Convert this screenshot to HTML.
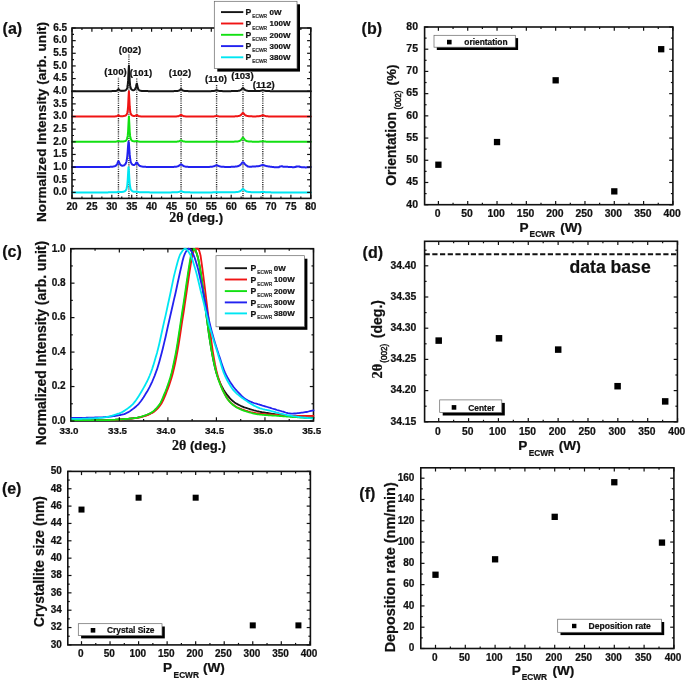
<!DOCTYPE html>
<html><head><meta charset="utf-8"><title>figure</title>
<style>html,body{margin:0;padding:0;background:#fff;overflow:hidden;}svg{display:block;filter:blur(0.35px);}text{stroke:#111;stroke-width:0.22px;}</style></head>
<body>
<svg width="685" height="681" viewBox="0 0 685 681" font-family="Liberation Sans, sans-serif" font-weight="bold">
<rect width="685" height="681" fill="#fff"/>
<line x1="118.45" y1="198.40" x2="118.45" y2="77.20" stroke="#2a2a2a" stroke-width="1.4" stroke-dasharray="1.1,1.1"/>
<line x1="128.91" y1="198.40" x2="128.91" y2="54.60" stroke="#2a2a2a" stroke-width="1.4" stroke-dasharray="1.1,1.1"/>
<line x1="136.75" y1="198.40" x2="136.75" y2="78.00" stroke="#2a2a2a" stroke-width="1.4" stroke-dasharray="1.1,1.1"/>
<line x1="181.05" y1="198.40" x2="181.05" y2="78.20" stroke="#2a2a2a" stroke-width="1.4" stroke-dasharray="1.1,1.1"/>
<line x1="216.59" y1="198.40" x2="216.59" y2="84.70" stroke="#2a2a2a" stroke-width="1.4" stroke-dasharray="1.1,1.1"/>
<line x1="242.98" y1="198.40" x2="242.98" y2="81.40" stroke="#2a2a2a" stroke-width="1.4" stroke-dasharray="1.1,1.1"/>
<line x1="262.80" y1="198.40" x2="262.80" y2="90.10" stroke="#2a2a2a" stroke-width="1.4" stroke-dasharray="1.1,1.1"/>
<polyline points="72.0,91.2 72.4,91.2 72.8,91.2 73.2,91.2 73.6,91.2 74.0,91.2 74.4,91.2 74.8,91.2 75.2,91.2 75.6,91.2 76.0,91.2 76.4,91.2 76.8,91.2 77.2,91.2 77.6,91.2 78.0,91.2 78.4,91.2 78.8,91.2 79.2,91.2 79.6,91.2 80.0,91.2 80.4,91.2 80.8,91.2 81.2,91.2 81.6,91.2 82.0,91.2 82.3,91.2 82.7,91.2 83.1,91.2 83.5,91.2 83.9,91.2 84.3,91.2 84.7,91.2 85.1,91.2 85.5,91.2 85.9,91.2 86.3,91.2 86.7,91.2 87.1,91.2 87.5,91.2 87.9,91.2 88.3,91.2 88.7,91.2 89.1,91.2 89.5,91.2 89.9,91.2 90.3,91.2 90.7,91.2 91.1,91.2 91.5,91.2 91.9,91.2 92.3,91.2 92.7,91.2 93.1,91.2 93.5,91.2 93.9,91.2 94.3,91.2 94.7,91.2 95.1,91.2 95.5,91.2 95.9,91.2 96.3,91.2 96.7,91.2 97.1,91.2 97.5,91.2 97.9,91.2 98.3,91.2 98.7,91.2 99.1,91.2 99.5,91.2 99.9,91.2 100.3,91.2 100.7,91.2 101.1,91.2 101.5,91.2 101.8,91.2 102.2,91.2 102.6,91.2 103.0,91.2 103.4,91.2 103.8,91.2 104.2,91.2 104.6,91.2 105.0,91.2 105.4,91.2 105.8,91.2 106.2,91.2 106.6,91.2 107.0,91.2 107.4,91.2 107.8,91.2 108.2,91.2 108.6,91.2 109.0,91.2 109.4,91.2 109.8,91.2 110.2,91.2 110.6,91.2 111.0,91.2 111.4,91.2 111.8,91.1 112.2,91.1 112.6,91.1 113.0,91.1 113.4,91.1 113.8,91.1 114.2,91.1 114.6,91.1 115.0,91.0 115.4,91.0 115.8,90.9 116.2,90.9 116.6,90.8 117.0,90.6 117.4,90.3 117.8,89.8 118.2,89.3 118.6,89.1 119.0,89.6 119.4,90.1 119.8,90.4 120.2,90.6 120.6,90.7 121.0,90.8 121.4,90.8 121.8,90.9 122.1,90.9 122.5,90.8 122.9,90.8 123.3,90.8 123.7,90.7 124.1,90.7 124.5,90.6 124.9,90.5 125.3,90.3 125.7,90.1 126.1,89.8 126.5,89.4 126.9,88.7 127.3,87.5 127.7,85.3 128.1,80.9 128.5,72.6 128.9,65.8 129.3,72.6 129.7,80.9 130.1,85.2 130.5,87.4 130.9,88.6 131.3,89.2 131.7,89.7 132.1,89.9 132.5,90.1 132.9,90.2 133.3,90.2 133.7,90.2 134.1,90.1 134.5,89.9 134.9,89.5 135.3,88.9 135.7,87.9 136.1,86.2 136.5,84.1 136.9,83.6 137.3,85.4 137.7,87.4 138.1,88.7 138.5,89.5 138.9,90.0 139.3,90.3 139.7,90.5 140.1,90.6 140.5,90.7 140.9,90.8 141.3,90.9 141.7,90.9 142.0,90.9 142.4,91.0 142.8,91.0 143.2,91.0 143.6,91.0 144.0,91.1 144.4,91.1 144.8,91.1 145.2,91.1 145.6,91.1 146.0,91.1 146.4,91.1 146.8,91.1 147.2,91.1 147.6,91.1 148.0,91.1 148.4,91.2 148.8,91.2 149.2,91.2 149.6,91.2 150.0,91.2 150.4,91.2 150.8,91.2 151.2,91.2 151.6,91.2 152.0,91.2 152.4,91.2 152.8,91.2 153.2,91.2 153.6,91.2 154.0,91.2 154.4,91.2 154.8,91.2 155.2,91.2 155.6,91.2 156.0,91.2 156.4,91.2 156.8,91.2 157.2,91.2 157.6,91.2 158.0,91.2 158.4,91.2 158.8,91.2 159.2,91.2 159.6,91.2 160.0,91.2 160.4,91.2 160.8,91.2 161.2,91.2 161.6,91.2 161.9,91.2 162.3,91.2 162.7,91.2 163.1,91.2 163.5,91.2 163.9,91.2 164.3,91.2 164.7,91.2 165.1,91.2 165.5,91.2 165.9,91.2 166.3,91.2 166.7,91.2 167.1,91.2 167.5,91.2 167.9,91.2 168.3,91.2 168.7,91.2 169.1,91.2 169.5,91.2 169.9,91.2 170.3,91.2 170.7,91.2 171.1,91.2 171.5,91.2 171.9,91.2 172.3,91.2 172.7,91.2 173.1,91.2 173.5,91.2 173.9,91.1 174.3,91.1 174.7,91.1 175.1,91.1 175.5,91.1 175.9,91.1 176.3,91.1 176.7,91.0 177.1,91.0 177.5,91.0 177.9,90.9 178.3,90.8 178.7,90.7 179.1,90.6 179.5,90.3 179.9,90.1 180.3,89.7 180.7,89.3 181.1,89.2 181.4,89.3 181.8,89.7 182.2,90.1 182.6,90.3 183.0,90.6 183.4,90.7 183.8,90.8 184.2,90.9 184.6,91.0 185.0,91.0 185.4,91.0 185.8,91.1 186.2,91.1 186.6,91.1 187.0,91.1 187.4,91.1 187.8,91.1 188.2,91.1 188.6,91.2 189.0,91.2 189.4,91.2 189.8,91.2 190.2,91.2 190.6,91.2 191.0,91.2 191.4,91.2 191.8,91.2 192.2,91.2 192.6,91.2 193.0,91.2 193.4,91.2 193.8,91.2 194.2,91.2 194.6,91.2 195.0,91.2 195.4,91.2 195.8,91.2 196.2,91.2 196.6,91.2 197.0,91.2 197.4,91.2 197.8,91.2 198.2,91.2 198.6,91.2 199.0,91.2 199.4,91.2 199.8,91.2 200.2,91.2 200.6,91.2 201.0,91.2 201.3,91.2 201.7,91.2 202.1,91.2 202.5,91.2 202.9,91.2 203.3,91.2 203.7,91.2 204.1,91.2 204.5,91.2 204.9,91.2 205.3,91.2 205.7,91.2 206.1,91.2 206.5,91.2 206.9,91.2 207.3,91.2 207.7,91.2 208.1,91.2 208.5,91.2 208.9,91.2 209.3,91.2 209.7,91.2 210.1,91.2 210.5,91.2 210.9,91.2 211.3,91.1 211.7,91.1 212.1,91.1 212.5,91.1 212.9,91.1 213.3,91.1 213.7,91.0 214.1,91.0 214.5,90.9 214.9,90.8 215.3,90.7 215.7,90.5 216.1,90.3 216.5,90.2 216.9,90.2 217.3,90.4 217.7,90.6 218.1,90.7 218.5,90.8 218.9,90.9 219.3,91.0 219.7,91.0 220.1,91.1 220.5,91.1 220.9,91.1 221.2,91.1 221.6,91.1 222.0,91.1 222.4,91.1 222.8,91.2 223.2,91.2 223.6,91.2 224.0,91.2 224.4,91.2 224.8,91.2 225.2,91.2 225.6,91.2 226.0,91.2 226.4,91.2 226.8,91.2 227.2,91.2 227.6,91.2 228.0,91.2 228.4,91.2 228.8,91.2 229.2,91.2 229.6,91.2 230.0,91.2 230.4,91.2 230.8,91.2 231.2,91.1 231.6,91.1 232.0,91.1 232.4,91.1 232.8,91.1 233.2,91.1 233.6,91.1 234.0,91.1 234.4,91.1 234.8,91.1 235.2,91.1 235.6,91.0 236.0,91.0 236.4,91.0 236.8,91.0 237.2,91.0 237.6,90.9 238.0,90.9 238.4,90.8 238.8,90.8 239.2,90.7 239.6,90.6 240.0,90.4 240.4,90.3 240.8,90.0 241.2,89.7 241.5,89.4 241.9,88.9 242.3,88.5 242.7,88.2 243.1,88.2 243.5,88.4 243.9,88.9 244.3,89.3 244.7,89.7 245.1,90.0 245.5,90.2 245.9,90.4 246.3,90.5 246.7,90.6 247.1,90.7 247.5,90.8 247.9,90.9 248.3,90.9 248.7,90.9 249.1,91.0 249.5,91.0 249.9,91.0 250.3,91.0 250.7,91.0 251.1,91.1 251.5,91.1 251.9,91.1 252.3,91.1 252.7,91.1 253.1,91.1 253.5,91.1 253.9,91.1 254.3,91.1 254.7,91.1 255.1,91.1 255.5,91.1 255.9,91.1 256.3,91.1 256.7,91.1 257.1,91.1 257.5,91.1 257.9,91.1 258.3,91.0 258.7,91.0 259.1,91.0 259.5,91.0 259.9,90.9 260.3,90.9 260.7,90.8 261.1,90.7 261.4,90.6 261.8,90.5 262.2,90.4 262.6,90.3 263.0,90.3 263.4,90.4 263.8,90.5 264.2,90.6 264.6,90.7 265.0,90.8 265.4,90.9 265.8,90.9 266.2,91.0 266.6,91.0 267.0,91.1 267.4,91.1 267.8,91.1 268.2,91.1 268.6,91.1 269.0,91.1 269.4,91.1 269.8,91.1 270.2,91.2 270.6,91.2 271.0,91.2 271.4,91.2 271.8,91.2 272.2,91.2 272.6,91.2 273.0,91.2 273.4,91.2 273.8,91.2 274.2,91.2 274.6,91.2 275.0,91.2 275.4,91.2 275.8,91.2 276.2,91.2 276.6,91.2 277.0,91.2 277.4,91.2 277.8,91.2 278.2,91.2 278.6,91.2 279.0,91.2 279.4,91.2 279.8,91.2 280.2,91.2 280.6,91.2 281.0,91.2 281.3,91.2 281.7,91.2 282.1,91.2 282.5,91.2 282.9,91.2 283.3,91.2 283.7,91.2 284.1,91.2 284.5,91.2 284.9,91.2 285.3,91.2 285.7,91.2 286.1,91.2 286.5,91.2 286.9,91.2 287.3,91.2 287.7,91.2 288.1,91.2 288.5,91.2 288.9,91.2 289.3,91.2 289.7,91.2 290.1,91.2 290.5,91.2 290.9,91.2 291.3,91.2 291.7,91.2 292.1,91.2 292.5,91.2 292.9,91.2 293.3,91.2 293.7,91.2 294.1,91.2 294.5,91.2 294.9,91.2 295.3,91.2 295.7,91.2 296.1,91.2 296.5,91.2 296.9,91.2 297.3,91.2 297.7,91.2 298.1,91.2 298.5,91.2 298.9,91.2 299.3,91.2 299.7,91.2 300.1,91.2 300.5,91.2 300.9,91.2 301.2,91.2 301.6,91.2 302.0,91.2 302.4,91.2 302.8,91.2 303.2,91.2 303.6,91.2 304.0,91.2 304.4,91.2 304.8,91.2 305.2,91.2 305.6,91.2 306.0,91.2 306.4,91.2 306.8,91.2 307.2,91.2 307.6,91.2 308.0,91.2 308.4,91.2 308.8,91.2 309.2,91.2 309.6,91.2 310.0,91.2 310.4,91.2 310.8,91.2" fill="none" stroke="#151515" stroke-width="2.0" stroke-linejoin="round" stroke-linecap="round"/>
<polyline points="72.0,116.5 72.4,116.5 72.8,116.5 73.2,116.5 73.6,116.5 74.0,116.5 74.4,116.5 74.8,116.5 75.2,116.5 75.6,116.5 76.0,116.5 76.4,116.5 76.8,116.5 77.2,116.5 77.6,116.5 78.0,116.5 78.4,116.5 78.8,116.5 79.2,116.5 79.6,116.5 80.0,116.5 80.4,116.5 80.8,116.5 81.2,116.5 81.6,116.5 82.0,116.5 82.3,116.5 82.7,116.5 83.1,116.5 83.5,116.5 83.9,116.5 84.3,116.5 84.7,116.5 85.1,116.5 85.5,116.5 85.9,116.5 86.3,116.5 86.7,116.5 87.1,116.5 87.5,116.5 87.9,116.5 88.3,116.5 88.7,116.5 89.1,116.5 89.5,116.5 89.9,116.5 90.3,116.5 90.7,116.5 91.1,116.5 91.5,116.5 91.9,116.5 92.3,116.5 92.7,116.5 93.1,116.5 93.5,116.5 93.9,116.5 94.3,116.5 94.7,116.5 95.1,116.5 95.5,116.5 95.9,116.5 96.3,116.5 96.7,116.5 97.1,116.5 97.5,116.5 97.9,116.5 98.3,116.5 98.7,116.5 99.1,116.5 99.5,116.5 99.9,116.5 100.3,116.5 100.7,116.5 101.1,116.5 101.5,116.5 101.8,116.5 102.2,116.5 102.6,116.5 103.0,116.5 103.4,116.5 103.8,116.5 104.2,116.5 104.6,116.5 105.0,116.5 105.4,116.5 105.8,116.5 106.2,116.5 106.6,116.5 107.0,116.5 107.4,116.5 107.8,116.5 108.2,116.5 108.6,116.5 109.0,116.5 109.4,116.5 109.8,116.5 110.2,116.5 110.6,116.5 111.0,116.5 111.4,116.5 111.8,116.5 112.2,116.5 112.6,116.4 113.0,116.4 113.4,116.4 113.8,116.4 114.2,116.4 114.6,116.4 115.0,116.4 115.4,116.4 115.8,116.3 116.2,116.3 116.6,116.2 117.0,116.1 117.4,115.9 117.8,115.6 118.2,115.3 118.6,115.2 119.0,115.5 119.4,115.8 119.8,116.0 120.2,116.1 120.6,116.2 121.0,116.2 121.4,116.2 121.8,116.2 122.1,116.2 122.5,116.2 122.9,116.2 123.3,116.1 123.7,116.1 124.1,116.0 124.5,115.9 124.9,115.8 125.3,115.7 125.7,115.5 126.1,115.2 126.5,114.7 126.9,114.0 127.3,112.8 127.7,110.6 128.1,106.3 128.5,98.0 128.9,91.2 129.3,98.0 129.7,106.2 130.1,110.6 130.5,112.8 130.9,114.0 131.3,114.7 131.7,115.1 132.1,115.4 132.5,115.6 132.9,115.8 133.3,115.9 133.7,115.9 134.1,116.0 134.5,116.0 134.9,115.9 135.3,115.8 135.7,115.7 136.1,115.3 136.5,114.9 136.9,114.9 137.3,115.2 137.7,115.6 138.1,115.9 138.5,116.1 138.9,116.2 139.3,116.2 139.7,116.3 140.1,116.3 140.5,116.4 140.9,116.4 141.3,116.4 141.7,116.4 142.0,116.4 142.4,116.4 142.8,116.4 143.2,116.4 143.6,116.4 144.0,116.4 144.4,116.5 144.8,116.5 145.2,116.5 145.6,116.5 146.0,116.5 146.4,116.5 146.8,116.5 147.2,116.5 147.6,116.5 148.0,116.5 148.4,116.5 148.8,116.5 149.2,116.5 149.6,116.5 150.0,116.5 150.4,116.5 150.8,116.5 151.2,116.5 151.6,116.5 152.0,116.5 152.4,116.5 152.8,116.5 153.2,116.5 153.6,116.5 154.0,116.5 154.4,116.5 154.8,116.5 155.2,116.5 155.6,116.5 156.0,116.5 156.4,116.5 156.8,116.5 157.2,116.5 157.6,116.5 158.0,116.5 158.4,116.5 158.8,116.5 159.2,116.5 159.6,116.5 160.0,116.5 160.4,116.5 160.8,116.5 161.2,116.5 161.6,116.5 161.9,116.5 162.3,116.5 162.7,116.5 163.1,116.5 163.5,116.5 163.9,116.5 164.3,116.5 164.7,116.5 165.1,116.5 165.5,116.5 165.9,116.5 166.3,116.5 166.7,116.5 167.1,116.5 167.5,116.5 167.9,116.5 168.3,116.5 168.7,116.5 169.1,116.5 169.5,116.5 169.9,116.5 170.3,116.5 170.7,116.5 171.1,116.5 171.5,116.5 171.9,116.5 172.3,116.5 172.7,116.5 173.1,116.5 173.5,116.5 173.9,116.4 174.3,116.4 174.7,116.4 175.1,116.4 175.5,116.4 175.9,116.4 176.3,116.4 176.7,116.4 177.1,116.3 177.5,116.3 177.9,116.2 178.3,116.2 178.7,116.1 179.1,115.9 179.5,115.7 179.9,115.5 180.3,115.2 180.7,114.9 181.1,114.7 181.4,114.9 181.8,115.2 182.2,115.5 182.6,115.7 183.0,115.9 183.4,116.1 183.8,116.2 184.2,116.2 184.6,116.3 185.0,116.3 185.4,116.4 185.8,116.4 186.2,116.4 186.6,116.4 187.0,116.4 187.4,116.4 187.8,116.4 188.2,116.4 188.6,116.5 189.0,116.5 189.4,116.5 189.8,116.5 190.2,116.5 190.6,116.5 191.0,116.5 191.4,116.5 191.8,116.5 192.2,116.5 192.6,116.5 193.0,116.5 193.4,116.5 193.8,116.5 194.2,116.5 194.6,116.5 195.0,116.5 195.4,116.5 195.8,116.5 196.2,116.5 196.6,116.5 197.0,116.5 197.4,116.5 197.8,116.5 198.2,116.5 198.6,116.5 199.0,116.5 199.4,116.5 199.8,116.5 200.2,116.5 200.6,116.5 201.0,116.5 201.3,116.5 201.7,116.5 202.1,116.5 202.5,116.5 202.9,116.5 203.3,116.5 203.7,116.5 204.1,116.5 204.5,116.5 204.9,116.5 205.3,116.5 205.7,116.5 206.1,116.5 206.5,116.5 206.9,116.5 207.3,116.5 207.7,116.5 208.1,116.5 208.5,116.5 208.9,116.5 209.3,116.5 209.7,116.5 210.1,116.5 210.5,116.5 210.9,116.5 211.3,116.5 211.7,116.5 212.1,116.5 212.5,116.5 212.9,116.4 213.3,116.4 213.7,116.4 214.1,116.4 214.5,116.3 214.9,116.3 215.3,116.2 215.7,116.1 216.1,116.1 216.5,116.0 216.9,116.0 217.3,116.1 217.7,116.2 218.1,116.3 218.5,116.3 218.9,116.4 219.3,116.4 219.7,116.4 220.1,116.4 220.5,116.4 220.9,116.4 221.2,116.5 221.6,116.5 222.0,116.5 222.4,116.5 222.8,116.5 223.2,116.5 223.6,116.5 224.0,116.5 224.4,116.5 224.8,116.5 225.2,116.5 225.6,116.5 226.0,116.5 226.4,116.5 226.8,116.5 227.2,116.5 227.6,116.5 228.0,116.5 228.4,116.5 228.8,116.5 229.2,116.5 229.6,116.4 230.0,116.4 230.4,116.4 230.8,116.4 231.2,116.4 231.6,116.4 232.0,116.4 232.4,116.4 232.8,116.4 233.2,116.4 233.6,116.4 234.0,116.4 234.4,116.4 234.8,116.4 235.2,116.3 235.6,116.3 236.0,116.3 236.4,116.3 236.8,116.2 237.2,116.2 237.6,116.2 238.0,116.1 238.4,116.0 238.8,116.0 239.2,115.9 239.6,115.7 240.0,115.6 240.4,115.4 240.8,115.1 241.2,114.8 241.5,114.3 241.9,113.9 242.3,113.4 242.7,113.0 243.1,113.0 243.5,113.3 243.9,113.7 244.3,114.3 244.7,114.7 245.1,115.1 245.5,115.3 245.9,115.5 246.3,115.7 246.7,115.8 247.1,115.9 247.5,116.0 247.9,116.1 248.3,116.1 248.7,116.2 249.1,116.2 249.5,116.2 249.9,116.3 250.3,116.3 250.7,116.3 251.1,116.3 251.5,116.3 251.9,116.3 252.3,116.4 252.7,116.4 253.1,116.4 253.5,116.4 253.9,116.4 254.3,116.4 254.7,116.4 255.1,116.4 255.5,116.4 255.9,116.4 256.3,116.4 256.7,116.3 257.1,116.3 257.5,116.3 257.9,116.3 258.3,116.3 258.7,116.2 259.1,116.2 259.5,116.1 259.9,116.1 260.3,116.0 260.7,115.9 261.1,115.8 261.4,115.6 261.8,115.5 262.2,115.3 262.6,115.2 263.0,115.2 263.4,115.3 263.8,115.5 264.2,115.7 264.6,115.8 265.0,115.9 265.4,116.0 265.8,116.1 266.2,116.2 266.6,116.2 267.0,116.3 267.4,116.3 267.8,116.3 268.2,116.4 268.6,116.4 269.0,116.4 269.4,116.4 269.8,116.4 270.2,116.4 270.6,116.4 271.0,116.4 271.4,116.4 271.8,116.4 272.2,116.5 272.6,116.5 273.0,116.5 273.4,116.5 273.8,116.5 274.2,116.5 274.6,116.5 275.0,116.5 275.4,116.5 275.8,116.5 276.2,116.5 276.6,116.5 277.0,116.5 277.4,116.5 277.8,116.5 278.2,116.5 278.6,116.5 279.0,116.5 279.4,116.5 279.8,116.5 280.2,116.5 280.6,116.5 281.0,116.5 281.3,116.5 281.7,116.5 282.1,116.5 282.5,116.5 282.9,116.5 283.3,116.5 283.7,116.5 284.1,116.5 284.5,116.5 284.9,116.5 285.3,116.5 285.7,116.5 286.1,116.5 286.5,116.5 286.9,116.5 287.3,116.5 287.7,116.5 288.1,116.5 288.5,116.5 288.9,116.5 289.3,116.5 289.7,116.5 290.1,116.5 290.5,116.5 290.9,116.5 291.3,116.5 291.7,116.5 292.1,116.5 292.5,116.5 292.9,116.5 293.3,116.5 293.7,116.5 294.1,116.5 294.5,116.5 294.9,116.5 295.3,116.5 295.7,116.5 296.1,116.5 296.5,116.5 296.9,116.5 297.3,116.5 297.7,116.5 298.1,116.5 298.5,116.5 298.9,116.5 299.3,116.5 299.7,116.5 300.1,116.5 300.5,116.5 300.9,116.5 301.2,116.5 301.6,116.5 302.0,116.5 302.4,116.5 302.8,116.5 303.2,116.5 303.6,116.5 304.0,116.5 304.4,116.5 304.8,116.5 305.2,116.5 305.6,116.5 306.0,116.5 306.4,116.5 306.8,116.5 307.2,116.5 307.6,116.5 308.0,116.5 308.4,116.5 308.8,116.5 309.2,116.5 309.6,116.5 310.0,116.5 310.4,116.5 310.8,116.5" fill="none" stroke="#f01414" stroke-width="2.0" stroke-linejoin="round" stroke-linecap="round"/>
<polyline points="72.0,141.8 72.4,141.8 72.8,141.8 73.2,141.8 73.6,141.8 74.0,141.8 74.4,141.8 74.8,141.8 75.2,141.8 75.6,141.8 76.0,141.8 76.4,141.8 76.8,141.8 77.2,141.8 77.6,141.8 78.0,141.8 78.4,141.8 78.8,141.8 79.2,141.8 79.6,141.8 80.0,141.8 80.4,141.8 80.8,141.8 81.2,141.8 81.6,141.8 82.0,141.8 82.3,141.8 82.7,141.8 83.1,141.8 83.5,141.8 83.9,141.8 84.3,141.8 84.7,141.8 85.1,141.8 85.5,141.8 85.9,141.8 86.3,141.8 86.7,141.8 87.1,141.8 87.5,141.8 87.9,141.8 88.3,141.8 88.7,141.8 89.1,141.8 89.5,141.8 89.9,141.8 90.3,141.8 90.7,141.8 91.1,141.8 91.5,141.8 91.9,141.8 92.3,141.8 92.7,141.8 93.1,141.8 93.5,141.8 93.9,141.8 94.3,141.8 94.7,141.8 95.1,141.8 95.5,141.8 95.9,141.8 96.3,141.8 96.7,141.8 97.1,141.8 97.5,141.8 97.9,141.8 98.3,141.8 98.7,141.8 99.1,141.8 99.5,141.8 99.9,141.8 100.3,141.8 100.7,141.8 101.1,141.8 101.5,141.8 101.8,141.8 102.2,141.8 102.6,141.8 103.0,141.8 103.4,141.8 103.8,141.8 104.2,141.8 104.6,141.8 105.0,141.8 105.4,141.8 105.8,141.8 106.2,141.8 106.6,141.8 107.0,141.8 107.4,141.8 107.8,141.8 108.2,141.8 108.6,141.8 109.0,141.8 109.4,141.8 109.8,141.8 110.2,141.8 110.6,141.8 111.0,141.8 111.4,141.8 111.8,141.8 112.2,141.8 112.6,141.8 113.0,141.7 113.4,141.7 113.8,141.7 114.2,141.7 114.6,141.7 115.0,141.7 115.4,141.7 115.8,141.7 116.2,141.6 116.6,141.6 117.0,141.5 117.4,141.4 117.8,141.2 118.2,141.0 118.6,141.0 119.0,141.1 119.4,141.3 119.8,141.4 120.2,141.5 120.6,141.5 121.0,141.6 121.4,141.6 121.8,141.5 122.1,141.5 122.5,141.5 122.9,141.5 123.3,141.4 123.7,141.4 124.1,141.3 124.5,141.2 124.9,141.1 125.3,141.0 125.7,140.8 126.1,140.5 126.5,140.0 126.9,139.3 127.3,138.1 127.7,135.9 128.1,131.6 128.5,123.3 128.9,116.5 129.3,123.3 129.7,131.6 130.1,135.9 130.5,138.1 130.9,139.3 131.3,140.0 131.7,140.5 132.1,140.8 132.5,141.0 132.9,141.1 133.3,141.2 133.7,141.3 134.1,141.3 134.5,141.4 134.9,141.4 135.3,141.3 135.7,141.3 136.1,141.1 136.5,140.9 136.9,140.9 137.3,141.1 137.7,141.3 138.1,141.4 138.5,141.5 138.9,141.6 139.3,141.6 139.7,141.7 140.1,141.7 140.5,141.7 140.9,141.7 141.3,141.7 141.7,141.7 142.0,141.7 142.4,141.7 142.8,141.7 143.2,141.7 143.6,141.7 144.0,141.8 144.4,141.8 144.8,141.8 145.2,141.8 145.6,141.8 146.0,141.8 146.4,141.8 146.8,141.8 147.2,141.8 147.6,141.8 148.0,141.8 148.4,141.8 148.8,141.8 149.2,141.8 149.6,141.8 150.0,141.8 150.4,141.8 150.8,141.8 151.2,141.8 151.6,141.8 152.0,141.8 152.4,141.8 152.8,141.8 153.2,141.8 153.6,141.8 154.0,141.8 154.4,141.8 154.8,141.8 155.2,141.8 155.6,141.8 156.0,141.8 156.4,141.8 156.8,141.8 157.2,141.8 157.6,141.8 158.0,141.8 158.4,141.8 158.8,141.8 159.2,141.8 159.6,141.8 160.0,141.8 160.4,141.8 160.8,141.8 161.2,141.8 161.6,141.8 161.9,141.8 162.3,141.8 162.7,141.8 163.1,141.8 163.5,141.8 163.9,141.8 164.3,141.8 164.7,141.8 165.1,141.8 165.5,141.8 165.9,141.8 166.3,141.8 166.7,141.8 167.1,141.8 167.5,141.8 167.9,141.8 168.3,141.8 168.7,141.8 169.1,141.8 169.5,141.8 169.9,141.8 170.3,141.8 170.7,141.8 171.1,141.8 171.5,141.8 171.9,141.8 172.3,141.8 172.7,141.8 173.1,141.8 173.5,141.8 173.9,141.8 174.3,141.7 174.7,141.7 175.1,141.7 175.5,141.7 175.9,141.7 176.3,141.7 176.7,141.7 177.1,141.6 177.5,141.6 177.9,141.6 178.3,141.5 178.7,141.4 179.1,141.3 179.5,141.1 179.9,140.9 180.3,140.7 180.7,140.4 181.1,140.3 181.4,140.4 181.8,140.7 182.2,140.9 182.6,141.1 183.0,141.3 183.4,141.4 183.8,141.5 184.2,141.6 184.6,141.6 185.0,141.6 185.4,141.7 185.8,141.7 186.2,141.7 186.6,141.7 187.0,141.7 187.4,141.7 187.8,141.7 188.2,141.8 188.6,141.8 189.0,141.8 189.4,141.8 189.8,141.8 190.2,141.8 190.6,141.8 191.0,141.8 191.4,141.8 191.8,141.8 192.2,141.8 192.6,141.8 193.0,141.8 193.4,141.8 193.8,141.8 194.2,141.8 194.6,141.8 195.0,141.8 195.4,141.8 195.8,141.8 196.2,141.8 196.6,141.8 197.0,141.8 197.4,141.8 197.8,141.8 198.2,141.8 198.6,141.8 199.0,141.8 199.4,141.8 199.8,141.8 200.2,141.8 200.6,141.8 201.0,141.8 201.3,141.8 201.7,141.8 202.1,141.8 202.5,141.8 202.9,141.8 203.3,141.8 203.7,141.8 204.1,141.8 204.5,141.8 204.9,141.8 205.3,141.8 205.7,141.8 206.1,141.8 206.5,141.8 206.9,141.8 207.3,141.8 207.7,141.8 208.1,141.8 208.5,141.8 208.9,141.8 209.3,141.8 209.7,141.8 210.1,141.8 210.5,141.8 210.9,141.8 211.3,141.8 211.7,141.8 212.1,141.8 212.5,141.8 212.9,141.7 213.3,141.7 213.7,141.7 214.1,141.7 214.5,141.7 214.9,141.6 215.3,141.6 215.7,141.5 216.1,141.5 216.5,141.4 216.9,141.4 217.3,141.5 217.7,141.6 218.1,141.6 218.5,141.7 218.9,141.7 219.3,141.7 219.7,141.7 220.1,141.7 220.5,141.7 220.9,141.7 221.2,141.8 221.6,141.8 222.0,141.8 222.4,141.8 222.8,141.8 223.2,141.8 223.6,141.8 224.0,141.8 224.4,141.8 224.8,141.8 225.2,141.8 225.6,141.8 226.0,141.8 226.4,141.8 226.8,141.8 227.2,141.8 227.6,141.8 228.0,141.7 228.4,141.7 228.8,141.7 229.2,141.7 229.6,141.7 230.0,141.7 230.4,141.7 230.8,141.7 231.2,141.7 231.6,141.7 232.0,141.7 232.4,141.7 232.8,141.7 233.2,141.7 233.6,141.7 234.0,141.7 234.4,141.6 234.8,141.6 235.2,141.6 235.6,141.6 236.0,141.6 236.4,141.5 236.8,141.5 237.2,141.5 237.6,141.4 238.0,141.4 238.4,141.3 238.8,141.2 239.2,141.1 239.6,140.9 240.0,140.8 240.4,140.5 240.8,140.2 241.2,139.8 241.5,139.3 241.9,138.8 242.3,138.2 242.7,137.8 243.1,137.8 243.5,138.1 243.9,138.7 244.3,139.2 244.7,139.7 245.1,140.1 245.5,140.5 245.9,140.7 246.3,140.9 246.7,141.1 247.1,141.2 247.5,141.3 247.9,141.3 248.3,141.4 248.7,141.4 249.1,141.5 249.5,141.5 249.9,141.5 250.3,141.6 250.7,141.6 251.1,141.6 251.5,141.6 251.9,141.6 252.3,141.7 252.7,141.7 253.1,141.7 253.5,141.7 253.9,141.7 254.3,141.7 254.7,141.7 255.1,141.7 255.5,141.7 255.9,141.7 256.3,141.7 256.7,141.7 257.1,141.7 257.5,141.7 257.9,141.7 258.3,141.7 258.7,141.7 259.1,141.7 259.5,141.6 259.9,141.6 260.3,141.6 260.7,141.5 261.1,141.5 261.4,141.4 261.8,141.4 262.2,141.3 262.6,141.3 263.0,141.3 263.4,141.3 263.8,141.4 264.2,141.5 264.6,141.5 265.0,141.6 265.4,141.6 265.8,141.6 266.2,141.7 266.6,141.7 267.0,141.7 267.4,141.7 267.8,141.7 268.2,141.7 268.6,141.7 269.0,141.7 269.4,141.8 269.8,141.8 270.2,141.8 270.6,141.8 271.0,141.8 271.4,141.8 271.8,141.8 272.2,141.8 272.6,141.8 273.0,141.8 273.4,141.8 273.8,141.8 274.2,141.8 274.6,141.8 275.0,141.8 275.4,141.8 275.8,141.8 276.2,141.8 276.6,141.8 277.0,141.8 277.4,141.8 277.8,141.8 278.2,141.8 278.6,141.8 279.0,141.8 279.4,141.8 279.8,141.8 280.2,141.8 280.6,141.8 281.0,141.8 281.3,141.8 281.7,141.8 282.1,141.8 282.5,141.8 282.9,141.8 283.3,141.8 283.7,141.8 284.1,141.8 284.5,141.8 284.9,141.8 285.3,141.8 285.7,141.8 286.1,141.8 286.5,141.8 286.9,141.8 287.3,141.8 287.7,141.8 288.1,141.8 288.5,141.8 288.9,141.8 289.3,141.8 289.7,141.8 290.1,141.8 290.5,141.8 290.9,141.8 291.3,141.8 291.7,141.8 292.1,141.8 292.5,141.8 292.9,141.8 293.3,141.8 293.7,141.8 294.1,141.8 294.5,141.8 294.9,141.8 295.3,141.8 295.7,141.8 296.1,141.8 296.5,141.8 296.9,141.8 297.3,141.8 297.7,141.8 298.1,141.8 298.5,141.8 298.9,141.8 299.3,141.8 299.7,141.8 300.1,141.8 300.5,141.8 300.9,141.8 301.2,141.8 301.6,141.8 302.0,141.8 302.4,141.8 302.8,141.8 303.2,141.8 303.6,141.8 304.0,141.8 304.4,141.8 304.8,141.8 305.2,141.8 305.6,141.8 306.0,141.8 306.4,141.8 306.8,141.8 307.2,141.8 307.6,141.8 308.0,141.8 308.4,141.8 308.8,141.8 309.2,141.8 309.6,141.8 310.0,141.8 310.4,141.8 310.8,141.8" fill="none" stroke="#12e012" stroke-width="2.0" stroke-linejoin="round" stroke-linecap="round"/>
<polyline points="72.0,167.1 72.4,167.1 72.8,167.1 73.2,167.1 73.6,167.1 74.0,167.1 74.4,167.1 74.8,167.1 75.2,167.1 75.6,167.1 76.0,167.1 76.4,167.1 76.8,167.1 77.2,167.1 77.6,167.1 78.0,167.1 78.4,167.1 78.8,167.1 79.2,167.1 79.6,167.1 80.0,167.1 80.4,167.1 80.8,167.1 81.2,167.1 81.6,167.1 82.0,167.1 82.3,167.1 82.7,167.1 83.1,167.1 83.5,167.1 83.9,167.1 84.3,167.1 84.7,167.1 85.1,167.1 85.5,167.1 85.9,167.1 86.3,167.1 86.7,167.1 87.1,167.1 87.5,167.1 87.9,167.1 88.3,167.1 88.7,167.1 89.1,167.1 89.5,167.1 89.9,167.1 90.3,167.1 90.7,167.1 91.1,167.1 91.5,167.1 91.9,167.1 92.3,167.1 92.7,167.1 93.1,167.1 93.5,167.1 93.9,167.1 94.3,167.1 94.7,167.1 95.1,167.1 95.5,167.0 95.9,167.0 96.3,167.0 96.7,167.0 97.1,167.0 97.5,167.0 97.9,167.0 98.3,167.0 98.7,167.0 99.1,167.0 99.5,167.0 99.9,167.0 100.3,167.0 100.7,167.0 101.1,167.0 101.5,167.0 101.8,167.0 102.2,167.0 102.6,167.0 103.0,167.0 103.4,167.0 103.8,167.0 104.2,167.0 104.6,167.0 105.0,167.0 105.4,167.0 105.8,167.0 106.2,167.0 106.6,167.0 107.0,166.9 107.4,166.9 107.8,166.9 108.2,166.9 108.6,166.9 109.0,166.9 109.4,166.9 109.8,166.9 110.2,166.8 110.6,166.8 111.0,166.8 111.4,166.8 111.8,166.7 112.2,166.7 112.6,166.7 113.0,166.6 113.4,166.6 113.8,166.5 114.2,166.4 114.6,166.3 115.0,166.1 115.4,166.0 115.8,165.7 116.2,165.4 116.6,164.9 117.0,164.2 117.4,163.3 117.8,162.3 118.2,161.4 118.6,161.2 119.0,161.9 119.4,162.8 119.8,163.7 120.2,164.4 120.6,164.9 121.0,165.2 121.4,165.5 121.8,165.6 122.1,165.7 122.5,165.7 122.9,165.6 123.3,165.6 123.7,165.5 124.1,165.3 124.5,165.0 124.9,164.7 125.3,164.2 125.7,163.6 126.1,162.7 126.5,161.3 126.9,159.3 127.3,156.1 127.7,151.4 128.1,145.6 128.5,141.7 128.9,143.5 129.3,149.1 129.7,154.4 130.1,158.1 130.5,160.5 130.9,162.1 131.3,163.1 131.7,163.9 132.1,164.3 132.5,164.7 132.9,164.9 133.3,165.0 133.7,165.0 134.1,165.0 134.5,164.8 134.9,164.5 135.3,164.1 135.7,163.5 136.1,162.9 136.5,162.4 136.9,162.4 137.3,162.8 137.7,163.5 138.1,164.2 138.5,164.8 138.9,165.2 139.3,165.6 139.7,165.8 140.1,166.0 140.5,166.2 140.9,166.3 141.3,166.4 141.7,166.5 142.0,166.6 142.4,166.6 142.8,166.7 143.2,166.7 143.6,166.7 144.0,166.8 144.4,166.8 144.8,166.8 145.2,166.8 145.6,166.8 146.0,166.9 146.4,166.9 146.8,166.9 147.2,166.9 147.6,166.9 148.0,166.9 148.4,166.9 148.8,166.9 149.2,166.9 149.6,166.9 150.0,167.0 150.4,167.0 150.8,167.0 151.2,167.0 151.6,167.0 152.0,167.0 152.4,167.0 152.8,167.0 153.2,167.0 153.6,167.0 154.0,167.0 154.4,167.0 154.8,167.0 155.2,167.0 155.6,167.0 156.0,167.0 156.4,167.0 156.8,167.0 157.2,167.0 157.6,167.0 158.0,167.0 158.4,167.0 158.8,167.0 159.2,167.0 159.6,167.0 160.0,167.0 160.4,167.0 160.8,167.0 161.2,167.0 161.6,167.0 161.9,167.0 162.3,167.0 162.7,167.0 163.1,167.0 163.5,167.0 163.9,167.0 164.3,167.0 164.7,167.0 165.1,167.0 165.5,167.0 165.9,167.0 166.3,167.0 166.7,167.0 167.1,167.0 167.5,167.0 167.9,167.0 168.3,167.0 168.7,167.0 169.1,167.0 169.5,167.0 169.9,167.0 170.3,167.0 170.7,167.0 171.1,167.0 171.5,166.9 171.9,166.9 172.3,166.9 172.7,166.9 173.1,166.9 173.5,166.9 173.9,166.9 174.3,166.8 174.7,166.8 175.1,166.8 175.5,166.8 175.9,166.7 176.3,166.7 176.7,166.6 177.1,166.5 177.5,166.4 177.9,166.3 178.3,166.1 178.7,165.9 179.1,165.7 179.5,165.4 179.9,165.0 180.3,164.7 180.7,164.4 181.1,164.3 181.4,164.4 181.8,164.7 182.2,165.0 182.6,165.4 183.0,165.7 183.4,165.9 183.8,166.1 184.2,166.3 184.6,166.4 185.0,166.5 185.4,166.6 185.8,166.7 186.2,166.7 186.6,166.8 187.0,166.8 187.4,166.8 187.8,166.8 188.2,166.9 188.6,166.9 189.0,166.9 189.4,166.9 189.8,166.9 190.2,166.9 190.6,166.9 191.0,167.0 191.4,167.0 191.8,167.0 192.2,167.0 192.6,167.0 193.0,167.0 193.4,167.0 193.8,167.0 194.2,167.0 194.6,167.0 195.0,167.0 195.4,167.0 195.8,167.0 196.2,167.0 196.6,167.0 197.0,167.0 197.4,167.0 197.8,167.0 198.2,167.0 198.6,167.0 199.0,167.0 199.4,167.0 199.8,167.0 200.2,167.0 200.6,167.0 201.0,167.0 201.3,167.0 201.7,167.0 202.1,167.0 202.5,167.0 202.9,167.0 203.3,167.0 203.7,167.0 204.1,167.0 204.5,167.0 204.9,167.0 205.3,167.0 205.7,167.0 206.1,167.0 206.5,167.0 206.9,167.0 207.3,166.9 207.7,166.9 208.1,166.9 208.5,166.9 208.9,166.9 209.3,166.9 209.7,166.9 210.1,166.8 210.5,166.8 210.9,166.8 211.3,166.8 211.7,166.7 212.1,166.7 212.5,166.6 212.9,166.5 213.3,166.4 213.7,166.3 214.1,166.2 214.5,166.1 214.9,165.9 215.3,165.7 215.7,165.5 216.1,165.4 216.5,165.3 216.9,165.3 217.3,165.4 217.7,165.6 218.1,165.8 218.5,165.9 218.9,166.1 219.3,166.2 219.7,166.4 220.1,166.5 220.5,166.5 220.9,166.6 221.2,166.7 221.6,166.7 222.0,166.7 222.4,166.8 222.8,166.8 223.2,166.8 223.6,166.8 224.0,166.8 224.4,166.9 224.8,166.9 225.2,166.9 225.6,166.9 226.0,166.9 226.4,166.9 226.8,166.9 227.2,166.9 227.6,166.9 228.0,166.9 228.4,166.9 228.8,166.9 229.2,166.9 229.6,166.9 230.0,166.9 230.4,166.9 230.8,166.9 231.2,166.8 231.6,166.8 232.0,166.8 232.4,166.8 232.8,166.8 233.2,166.8 233.6,166.7 234.0,166.7 234.4,166.7 234.8,166.7 235.2,166.6 235.6,166.6 236.0,166.5 236.4,166.5 236.8,166.4 237.2,166.4 237.6,166.3 238.0,166.2 238.4,166.0 238.8,165.9 239.2,165.7 239.6,165.5 240.0,165.2 240.4,164.9 240.8,164.5 241.2,164.0 241.5,163.5 241.9,163.0 242.3,162.6 242.7,162.3 243.1,162.3 243.5,162.5 243.9,162.9 244.3,163.4 244.7,163.9 245.1,164.4 245.5,164.8 245.9,165.1 246.3,165.4 246.7,165.6 247.1,165.8 247.5,166.3 247.9,166.5 248.3,166.5 248.7,166.6 249.1,166.7 249.5,166.7 249.9,166.7 250.3,166.7 250.7,166.7 251.1,166.7 251.5,166.7 251.9,166.6 252.3,166.6 252.7,166.6 253.1,166.5 253.5,166.5 253.9,166.5 254.3,166.5 254.7,166.4 255.1,166.4 255.5,166.4 255.9,166.4 256.3,166.3 256.7,166.3 257.1,166.3 257.5,166.3 257.9,166.2 258.3,166.2 258.7,166.1 259.1,166.0 259.5,166.0 259.9,165.9 260.3,165.7 260.7,165.6 261.1,165.4 261.4,165.3 261.8,165.2 262.2,165.1 262.6,165.0 263.0,165.0 263.4,165.1 263.8,165.2 264.2,165.3 264.6,165.5 265.0,165.6 265.4,165.8 265.8,165.9 266.2,166.0 266.6,166.1 267.0,166.2 267.4,166.2 267.8,166.3 268.2,166.4 268.6,166.4 269.0,166.5 269.4,166.6 269.8,166.6 270.2,166.7 270.6,166.7 271.0,166.8 271.4,166.8 271.8,166.9 272.2,166.9 272.6,167.0 273.0,167.1 273.4,167.1 273.8,167.1 274.2,167.2 274.6,167.2 275.0,167.3 275.4,167.3 275.8,167.3 276.2,167.3 276.6,167.3 277.0,167.3 277.4,167.3 277.8,167.3 278.2,167.3 278.6,167.3 279.0,167.2 279.4,166.6 279.8,166.5 280.2,166.5 280.6,166.4 281.0,166.4 281.3,166.3 281.7,166.3 282.1,166.3 282.5,166.2 282.9,166.8 283.3,166.8 283.7,166.8 284.1,166.7 284.5,166.7 284.9,166.7 285.3,166.7 285.7,166.7 286.1,166.7 286.5,166.8 286.9,166.8 287.3,166.8 287.7,166.8 288.1,166.9 288.5,166.9 288.9,166.9 289.3,167.0 289.7,167.0 290.1,167.0 290.5,167.1 290.9,167.1 291.3,167.1 291.7,167.1 292.1,167.1 292.5,167.2 292.9,167.2 293.3,167.2 293.7,167.2 294.1,167.2 294.5,167.1 294.9,167.1 295.3,167.1 295.7,167.1 296.1,166.5 296.5,166.4 296.9,166.4 297.3,166.4 297.7,166.4 298.1,166.4 298.5,166.4 298.9,166.4 299.3,166.4 299.7,166.4 300.1,167.1 300.5,167.1 300.9,167.1 301.2,167.1 301.6,167.2 302.0,167.2 302.4,167.2 302.8,167.2 303.2,167.3 303.6,167.3 304.0,167.3 304.4,167.3 304.8,167.3 305.2,167.4 305.6,167.4 306.0,167.4 306.4,167.4 306.8,167.3 307.2,167.3 307.6,167.3 308.0,167.3 308.4,167.2 308.8,167.2 309.2,167.2 309.6,167.1 310.0,167.1 310.4,167.0 310.8,167.0" fill="none" stroke="#2222f0" stroke-width="2.0" stroke-linejoin="round" stroke-linecap="round"/>
<polyline points="72.0,192.4 72.4,192.4 72.8,192.4 73.2,192.4 73.6,192.4 74.0,192.4 74.4,192.4 74.8,192.4 75.2,192.4 75.6,192.4 76.0,192.4 76.4,192.4 76.8,192.4 77.2,192.4 77.6,192.4 78.0,192.4 78.4,192.4 78.8,192.4 79.2,192.4 79.6,192.4 80.0,192.4 80.4,192.4 80.8,192.4 81.2,192.4 81.6,192.4 82.0,192.4 82.3,192.4 82.7,192.4 83.1,192.4 83.5,192.4 83.9,192.4 84.3,192.4 84.7,192.4 85.1,192.4 85.5,192.4 85.9,192.4 86.3,192.4 86.7,192.4 87.1,192.4 87.5,192.4 87.9,192.4 88.3,192.4 88.7,192.4 89.1,192.4 89.5,192.4 89.9,192.4 90.3,192.4 90.7,192.4 91.1,192.4 91.5,192.4 91.9,192.4 92.3,192.4 92.7,192.4 93.1,192.4 93.5,192.4 93.9,192.4 94.3,192.4 94.7,192.4 95.1,192.4 95.5,192.4 95.9,192.4 96.3,192.4 96.7,192.4 97.1,192.4 97.5,192.4 97.9,192.4 98.3,192.4 98.7,192.4 99.1,192.4 99.5,192.4 99.9,192.4 100.3,192.4 100.7,192.4 101.1,192.4 101.5,192.4 101.8,192.4 102.2,192.4 102.6,192.4 103.0,192.4 103.4,192.4 103.8,192.4 104.2,192.4 104.6,192.4 105.0,192.4 105.4,192.4 105.8,192.4 106.2,192.4 106.6,192.4 107.0,192.4 107.4,192.4 107.8,192.4 108.2,192.4 108.6,192.3 109.0,192.3 109.4,192.3 109.8,192.3 110.2,192.3 110.6,192.3 111.0,192.3 111.4,192.3 111.8,192.3 112.2,192.3 112.6,192.3 113.0,192.3 113.4,192.3 113.8,192.3 114.2,192.3 114.6,192.3 115.0,192.3 115.4,192.2 115.8,192.2 116.2,192.2 116.6,192.2 117.0,192.1 117.4,192.0 117.8,191.9 118.2,191.8 118.6,191.7 119.0,191.8 119.4,191.9 119.8,192.0 120.2,192.0 120.6,192.0 121.0,192.0 121.4,192.0 121.8,192.0 122.1,191.9 122.5,191.9 122.9,191.8 123.3,191.8 123.7,191.6 124.1,191.5 124.5,191.4 124.9,191.1 125.3,190.8 125.7,190.4 126.1,189.8 126.5,188.8 126.9,187.3 127.3,184.8 127.7,180.3 128.1,173.3 128.5,167.3 128.9,170.3 129.3,177.8 129.7,183.3 130.1,186.5 130.5,188.3 130.9,189.4 131.3,190.2 131.7,190.7 132.1,191.0 132.5,191.3 132.9,191.4 133.3,191.6 133.7,191.7 134.1,191.8 134.5,191.8 134.9,191.8 135.3,191.8 135.7,191.8 136.1,191.7 136.5,191.6 136.9,191.6 137.3,191.8 137.7,191.9 138.1,192.0 138.5,192.1 138.9,192.1 139.3,192.2 139.7,192.2 140.1,192.2 140.5,192.2 140.9,192.3 141.3,192.3 141.7,192.3 142.0,192.3 142.4,192.3 142.8,192.3 143.2,192.3 143.6,192.3 144.0,192.3 144.4,192.3 144.8,192.3 145.2,192.3 145.6,192.3 146.0,192.3 146.4,192.3 146.8,192.3 147.2,192.3 147.6,192.3 148.0,192.3 148.4,192.3 148.8,192.3 149.2,192.3 149.6,192.4 150.0,192.4 150.4,192.4 150.8,192.4 151.2,192.4 151.6,192.4 152.0,192.4 152.4,192.4 152.8,192.4 153.2,192.4 153.6,192.4 154.0,192.4 154.4,192.4 154.8,192.4 155.2,192.4 155.6,192.4 156.0,192.4 156.4,192.4 156.8,192.4 157.2,192.4 157.6,192.4 158.0,192.4 158.4,192.4 158.8,192.4 159.2,192.4 159.6,192.4 160.0,192.4 160.4,192.4 160.8,192.4 161.2,192.4 161.6,192.4 161.9,192.4 162.3,192.4 162.7,192.4 163.1,192.4 163.5,192.4 163.9,192.4 164.3,192.4 164.7,192.4 165.1,192.4 165.5,192.4 165.9,192.4 166.3,192.4 166.7,192.4 167.1,192.4 167.5,192.4 167.9,192.4 168.3,192.4 168.7,192.4 169.1,192.4 169.5,192.4 169.9,192.4 170.3,192.4 170.7,192.4 171.1,192.4 171.5,192.4 171.9,192.3 172.3,192.3 172.7,192.3 173.1,192.3 173.5,192.3 173.9,192.3 174.3,192.3 174.7,192.3 175.1,192.3 175.5,192.3 175.9,192.3 176.3,192.3 176.7,192.2 177.1,192.2 177.5,192.2 177.9,192.1 178.3,192.1 178.7,192.0 179.1,191.9 179.5,191.8 179.9,191.6 180.3,191.4 180.7,191.2 181.1,191.1 181.4,191.2 181.8,191.4 182.2,191.6 182.6,191.8 183.0,191.9 183.4,192.0 183.8,192.1 184.2,192.1 184.6,192.2 185.0,192.2 185.4,192.2 185.8,192.3 186.2,192.3 186.6,192.3 187.0,192.3 187.4,192.3 187.8,192.3 188.2,192.3 188.6,192.3 189.0,192.3 189.4,192.3 189.8,192.3 190.2,192.4 190.6,192.4 191.0,192.4 191.4,192.4 191.8,192.4 192.2,192.4 192.6,192.4 193.0,192.4 193.4,192.4 193.8,192.4 194.2,192.4 194.6,192.4 195.0,192.4 195.4,192.4 195.8,192.4 196.2,192.4 196.6,192.4 197.0,192.4 197.4,192.4 197.8,192.4 198.2,192.4 198.6,192.4 199.0,192.4 199.4,192.4 199.8,192.4 200.2,192.4 200.6,192.4 201.0,192.4 201.3,192.4 201.7,192.4 202.1,192.4 202.5,192.4 202.9,192.4 203.3,192.4 203.7,192.4 204.1,192.4 204.5,192.4 204.9,192.4 205.3,192.4 205.7,192.4 206.1,192.4 206.5,192.4 206.9,192.4 207.3,192.4 207.7,192.4 208.1,192.4 208.5,192.4 208.9,192.4 209.3,192.4 209.7,192.4 210.1,192.4 210.5,192.4 210.9,192.4 211.3,192.4 211.7,192.4 212.1,192.4 212.5,192.4 212.9,192.3 213.3,192.3 213.7,192.3 214.1,192.3 214.5,192.3 214.9,192.3 215.3,192.2 215.7,192.2 216.1,192.2 216.5,192.1 216.9,192.1 217.3,192.2 217.7,192.2 218.1,192.2 218.5,192.3 218.9,192.3 219.3,192.3 219.7,192.3 220.1,192.3 220.5,192.3 220.9,192.3 221.2,192.3 221.6,192.3 222.0,192.3 222.4,192.3 222.8,192.3 223.2,192.3 223.6,192.3 224.0,192.3 224.4,192.3 224.8,192.3 225.2,192.3 225.6,192.3 226.0,192.3 226.4,192.3 226.8,192.3 227.2,192.3 227.6,192.3 228.0,192.3 228.4,192.3 228.8,192.3 229.2,192.3 229.6,192.3 230.0,192.3 230.4,192.3 230.8,192.3 231.2,192.3 231.6,192.3 232.0,192.3 232.4,192.3 232.8,192.2 233.2,192.2 233.6,192.2 234.0,192.2 234.4,192.2 234.8,192.2 235.2,192.2 235.6,192.1 236.0,192.1 236.4,192.1 236.8,192.0 237.2,192.0 237.6,191.9 238.0,191.9 238.4,191.8 238.8,191.7 239.2,191.6 239.6,191.4 240.0,191.3 240.4,191.0 240.8,190.8 241.2,190.5 241.5,190.1 241.9,189.7 242.3,189.4 242.7,189.1 243.1,189.1 243.5,189.3 243.9,189.6 244.3,190.0 244.7,190.4 245.1,190.7 245.5,191.0 245.9,191.2 246.3,191.4 246.7,191.6 247.1,191.7 247.5,191.8 247.9,191.8 248.3,191.9 248.7,192.0 249.1,192.0 249.5,192.1 249.9,192.1 250.3,192.1 250.7,192.1 251.1,192.2 251.5,192.2 251.9,192.2 252.3,192.2 252.7,192.2 253.1,192.2 253.5,192.2 253.9,192.2 254.3,192.3 254.7,192.3 255.1,192.3 255.5,192.3 255.9,192.3 256.3,192.3 256.7,192.3 257.1,192.3 257.5,192.3 257.9,192.3 258.3,192.3 258.7,192.2 259.1,192.2 259.5,192.2 259.9,192.2 260.3,192.2 260.7,192.1 261.1,192.1 261.4,192.0 261.8,191.9 262.2,191.9 262.6,191.9 263.0,191.9 263.4,191.9 263.8,192.0 264.2,192.0 264.6,192.1 265.0,192.1 265.4,192.2 265.8,192.2 266.2,192.2 266.6,192.3 267.0,192.3 267.4,192.3 267.8,192.3 268.2,192.3 268.6,192.3 269.0,192.3 269.4,192.3 269.8,192.3 270.2,192.3 270.6,192.3 271.0,192.4 271.4,192.4 271.8,192.4 272.2,192.4 272.6,192.4 273.0,192.4 273.4,192.4 273.8,192.4 274.2,192.4 274.6,192.4 275.0,192.4 275.4,192.4 275.8,192.4 276.2,192.4 276.6,192.4 277.0,192.4 277.4,192.4 277.8,192.4 278.2,192.4 278.6,192.4 279.0,192.4 279.4,192.4 279.8,192.4 280.2,192.4 280.6,192.4 281.0,192.4 281.3,192.4 281.7,192.4 282.1,192.4 282.5,192.4 282.9,192.4 283.3,192.4 283.7,192.4 284.1,192.4 284.5,192.4 284.9,192.4 285.3,192.4 285.7,192.4 286.1,192.4 286.5,192.4 286.9,192.4 287.3,192.4 287.7,192.4 288.1,192.4 288.5,192.4 288.9,192.4 289.3,192.4 289.7,192.4 290.1,192.4 290.5,192.4 290.9,192.4 291.3,192.4 291.7,192.4 292.1,192.4 292.5,192.4 292.9,192.4 293.3,192.4 293.7,192.4 294.1,192.4 294.5,192.4 294.9,192.4 295.3,192.4 295.7,192.4 296.1,192.4 296.5,192.4 296.9,192.4 297.3,192.4 297.7,192.4 298.1,192.4 298.5,192.4 298.9,192.4 299.3,192.4 299.7,192.4 300.1,192.4 300.5,192.4 300.9,192.4 301.2,192.4 301.6,192.4 302.0,192.4 302.4,192.4 302.8,192.4 303.2,192.4 303.6,192.4 304.0,192.4 304.4,192.4 304.8,192.4 305.2,192.4 305.6,192.4 306.0,192.4 306.4,192.4 306.8,192.4 307.2,192.4 307.6,192.4 308.0,192.4 308.4,192.4 308.8,192.4 309.2,192.4 309.6,192.4 310.0,192.4 310.4,192.4 310.8,192.4" fill="none" stroke="#00e6f2" stroke-width="2.0" stroke-linejoin="round" stroke-linecap="round"/>
<rect x="72.00" y="28.00" width="238.80" height="170.40" fill="none" stroke="#111" stroke-width="1.6"/>
<line x1="81.95" y1="198.40" x2="81.95" y2="196.40" stroke="#111" stroke-width="1.2" />
<line x1="81.95" y1="28.00" x2="81.95" y2="30.00" stroke="#111" stroke-width="1.2" />
<line x1="101.85" y1="198.40" x2="101.85" y2="196.40" stroke="#111" stroke-width="1.2" />
<line x1="101.85" y1="28.00" x2="101.85" y2="30.00" stroke="#111" stroke-width="1.2" />
<line x1="121.75" y1="198.40" x2="121.75" y2="196.40" stroke="#111" stroke-width="1.2" />
<line x1="121.75" y1="28.00" x2="121.75" y2="30.00" stroke="#111" stroke-width="1.2" />
<line x1="141.65" y1="198.40" x2="141.65" y2="196.40" stroke="#111" stroke-width="1.2" />
<line x1="141.65" y1="28.00" x2="141.65" y2="30.00" stroke="#111" stroke-width="1.2" />
<line x1="161.55" y1="198.40" x2="161.55" y2="196.40" stroke="#111" stroke-width="1.2" />
<line x1="161.55" y1="28.00" x2="161.55" y2="30.00" stroke="#111" stroke-width="1.2" />
<line x1="181.45" y1="198.40" x2="181.45" y2="196.40" stroke="#111" stroke-width="1.2" />
<line x1="181.45" y1="28.00" x2="181.45" y2="30.00" stroke="#111" stroke-width="1.2" />
<line x1="201.35" y1="198.40" x2="201.35" y2="196.40" stroke="#111" stroke-width="1.2" />
<line x1="201.35" y1="28.00" x2="201.35" y2="30.00" stroke="#111" stroke-width="1.2" />
<line x1="221.25" y1="198.40" x2="221.25" y2="196.40" stroke="#111" stroke-width="1.2" />
<line x1="221.25" y1="28.00" x2="221.25" y2="30.00" stroke="#111" stroke-width="1.2" />
<line x1="241.15" y1="198.40" x2="241.15" y2="196.40" stroke="#111" stroke-width="1.2" />
<line x1="241.15" y1="28.00" x2="241.15" y2="30.00" stroke="#111" stroke-width="1.2" />
<line x1="261.05" y1="198.40" x2="261.05" y2="196.40" stroke="#111" stroke-width="1.2" />
<line x1="261.05" y1="28.00" x2="261.05" y2="30.00" stroke="#111" stroke-width="1.2" />
<line x1="280.95" y1="198.40" x2="280.95" y2="196.40" stroke="#111" stroke-width="1.2" />
<line x1="280.95" y1="28.00" x2="280.95" y2="30.00" stroke="#111" stroke-width="1.2" />
<line x1="300.85" y1="198.40" x2="300.85" y2="196.40" stroke="#111" stroke-width="1.2" />
<line x1="300.85" y1="28.00" x2="300.85" y2="30.00" stroke="#111" stroke-width="1.2" />
<line x1="72.00" y1="198.40" x2="72.00" y2="194.70" stroke="#111" stroke-width="1.2" />
<line x1="72.00" y1="28.00" x2="72.00" y2="31.70" stroke="#111" stroke-width="1.2" />
<line x1="91.90" y1="198.40" x2="91.90" y2="194.70" stroke="#111" stroke-width="1.2" />
<line x1="91.90" y1="28.00" x2="91.90" y2="31.70" stroke="#111" stroke-width="1.2" />
<line x1="111.80" y1="198.40" x2="111.80" y2="194.70" stroke="#111" stroke-width="1.2" />
<line x1="111.80" y1="28.00" x2="111.80" y2="31.70" stroke="#111" stroke-width="1.2" />
<line x1="131.70" y1="198.40" x2="131.70" y2="194.70" stroke="#111" stroke-width="1.2" />
<line x1="131.70" y1="28.00" x2="131.70" y2="31.70" stroke="#111" stroke-width="1.2" />
<line x1="151.60" y1="198.40" x2="151.60" y2="194.70" stroke="#111" stroke-width="1.2" />
<line x1="151.60" y1="28.00" x2="151.60" y2="31.70" stroke="#111" stroke-width="1.2" />
<line x1="171.50" y1="198.40" x2="171.50" y2="194.70" stroke="#111" stroke-width="1.2" />
<line x1="171.50" y1="28.00" x2="171.50" y2="31.70" stroke="#111" stroke-width="1.2" />
<line x1="191.40" y1="198.40" x2="191.40" y2="194.70" stroke="#111" stroke-width="1.2" />
<line x1="191.40" y1="28.00" x2="191.40" y2="31.70" stroke="#111" stroke-width="1.2" />
<line x1="211.30" y1="198.40" x2="211.30" y2="194.70" stroke="#111" stroke-width="1.2" />
<line x1="211.30" y1="28.00" x2="211.30" y2="31.70" stroke="#111" stroke-width="1.2" />
<line x1="231.20" y1="198.40" x2="231.20" y2="194.70" stroke="#111" stroke-width="1.2" />
<line x1="231.20" y1="28.00" x2="231.20" y2="31.70" stroke="#111" stroke-width="1.2" />
<line x1="251.10" y1="198.40" x2="251.10" y2="194.70" stroke="#111" stroke-width="1.2" />
<line x1="251.10" y1="28.00" x2="251.10" y2="31.70" stroke="#111" stroke-width="1.2" />
<line x1="271.00" y1="198.40" x2="271.00" y2="194.70" stroke="#111" stroke-width="1.2" />
<line x1="271.00" y1="28.00" x2="271.00" y2="31.70" stroke="#111" stroke-width="1.2" />
<line x1="290.90" y1="198.40" x2="290.90" y2="194.70" stroke="#111" stroke-width="1.2" />
<line x1="290.90" y1="28.00" x2="290.90" y2="31.70" stroke="#111" stroke-width="1.2" />
<line x1="310.80" y1="198.40" x2="310.80" y2="194.70" stroke="#111" stroke-width="1.2" />
<line x1="310.80" y1="28.00" x2="310.80" y2="31.70" stroke="#111" stroke-width="1.2" />
<text x="72.00" y="210.40" font-size="10" text-anchor="middle" fill="#111" >20</text>
<text x="91.90" y="210.40" font-size="10" text-anchor="middle" fill="#111" >25</text>
<text x="111.80" y="210.40" font-size="10" text-anchor="middle" fill="#111" >30</text>
<text x="131.70" y="210.40" font-size="10" text-anchor="middle" fill="#111" >35</text>
<text x="151.60" y="210.40" font-size="10" text-anchor="middle" fill="#111" >40</text>
<text x="171.50" y="210.40" font-size="10" text-anchor="middle" fill="#111" >45</text>
<text x="191.40" y="210.40" font-size="10" text-anchor="middle" fill="#111" >50</text>
<text x="211.30" y="210.40" font-size="10" text-anchor="middle" fill="#111" >55</text>
<text x="231.20" y="210.40" font-size="10" text-anchor="middle" fill="#111" >60</text>
<text x="251.10" y="210.40" font-size="10" text-anchor="middle" fill="#111" >65</text>
<text x="271.00" y="210.40" font-size="10" text-anchor="middle" fill="#111" >70</text>
<text x="290.90" y="210.40" font-size="10" text-anchor="middle" fill="#111" >75</text>
<text x="310.80" y="210.40" font-size="10" text-anchor="middle" fill="#111" >80</text>
<line x1="72.00" y1="186.08" x2="74.00" y2="186.08" stroke="#111" stroke-width="1.2" />
<line x1="310.80" y1="186.08" x2="308.80" y2="186.08" stroke="#111" stroke-width="1.2" />
<line x1="72.00" y1="173.43" x2="74.00" y2="173.43" stroke="#111" stroke-width="1.2" />
<line x1="310.80" y1="173.43" x2="308.80" y2="173.43" stroke="#111" stroke-width="1.2" />
<line x1="72.00" y1="160.78" x2="74.00" y2="160.78" stroke="#111" stroke-width="1.2" />
<line x1="310.80" y1="160.78" x2="308.80" y2="160.78" stroke="#111" stroke-width="1.2" />
<line x1="72.00" y1="148.14" x2="74.00" y2="148.14" stroke="#111" stroke-width="1.2" />
<line x1="310.80" y1="148.14" x2="308.80" y2="148.14" stroke="#111" stroke-width="1.2" />
<line x1="72.00" y1="135.49" x2="74.00" y2="135.49" stroke="#111" stroke-width="1.2" />
<line x1="310.80" y1="135.49" x2="308.80" y2="135.49" stroke="#111" stroke-width="1.2" />
<line x1="72.00" y1="122.85" x2="74.00" y2="122.85" stroke="#111" stroke-width="1.2" />
<line x1="310.80" y1="122.85" x2="308.80" y2="122.85" stroke="#111" stroke-width="1.2" />
<line x1="72.00" y1="110.20" x2="74.00" y2="110.20" stroke="#111" stroke-width="1.2" />
<line x1="310.80" y1="110.20" x2="308.80" y2="110.20" stroke="#111" stroke-width="1.2" />
<line x1="72.00" y1="97.55" x2="74.00" y2="97.55" stroke="#111" stroke-width="1.2" />
<line x1="310.80" y1="97.55" x2="308.80" y2="97.55" stroke="#111" stroke-width="1.2" />
<line x1="72.00" y1="84.91" x2="74.00" y2="84.91" stroke="#111" stroke-width="1.2" />
<line x1="310.80" y1="84.91" x2="308.80" y2="84.91" stroke="#111" stroke-width="1.2" />
<line x1="72.00" y1="72.26" x2="74.00" y2="72.26" stroke="#111" stroke-width="1.2" />
<line x1="310.80" y1="72.26" x2="308.80" y2="72.26" stroke="#111" stroke-width="1.2" />
<line x1="72.00" y1="59.62" x2="74.00" y2="59.62" stroke="#111" stroke-width="1.2" />
<line x1="310.80" y1="59.62" x2="308.80" y2="59.62" stroke="#111" stroke-width="1.2" />
<line x1="72.00" y1="46.97" x2="74.00" y2="46.97" stroke="#111" stroke-width="1.2" />
<line x1="310.80" y1="46.97" x2="308.80" y2="46.97" stroke="#111" stroke-width="1.2" />
<line x1="72.00" y1="34.32" x2="74.00" y2="34.32" stroke="#111" stroke-width="1.2" />
<line x1="310.80" y1="34.32" x2="308.80" y2="34.32" stroke="#111" stroke-width="1.2" />
<line x1="72.00" y1="192.40" x2="75.70" y2="192.40" stroke="#111" stroke-width="1.2" />
<line x1="310.80" y1="192.40" x2="307.10" y2="192.40" stroke="#111" stroke-width="1.2" />
<line x1="72.00" y1="179.75" x2="75.70" y2="179.75" stroke="#111" stroke-width="1.2" />
<line x1="310.80" y1="179.75" x2="307.10" y2="179.75" stroke="#111" stroke-width="1.2" />
<line x1="72.00" y1="167.11" x2="75.70" y2="167.11" stroke="#111" stroke-width="1.2" />
<line x1="310.80" y1="167.11" x2="307.10" y2="167.11" stroke="#111" stroke-width="1.2" />
<line x1="72.00" y1="154.46" x2="75.70" y2="154.46" stroke="#111" stroke-width="1.2" />
<line x1="310.80" y1="154.46" x2="307.10" y2="154.46" stroke="#111" stroke-width="1.2" />
<line x1="72.00" y1="141.82" x2="75.70" y2="141.82" stroke="#111" stroke-width="1.2" />
<line x1="310.80" y1="141.82" x2="307.10" y2="141.82" stroke="#111" stroke-width="1.2" />
<line x1="72.00" y1="129.17" x2="75.70" y2="129.17" stroke="#111" stroke-width="1.2" />
<line x1="310.80" y1="129.17" x2="307.10" y2="129.17" stroke="#111" stroke-width="1.2" />
<line x1="72.00" y1="116.52" x2="75.70" y2="116.52" stroke="#111" stroke-width="1.2" />
<line x1="310.80" y1="116.52" x2="307.10" y2="116.52" stroke="#111" stroke-width="1.2" />
<line x1="72.00" y1="103.88" x2="75.70" y2="103.88" stroke="#111" stroke-width="1.2" />
<line x1="310.80" y1="103.88" x2="307.10" y2="103.88" stroke="#111" stroke-width="1.2" />
<line x1="72.00" y1="91.23" x2="75.70" y2="91.23" stroke="#111" stroke-width="1.2" />
<line x1="310.80" y1="91.23" x2="307.10" y2="91.23" stroke="#111" stroke-width="1.2" />
<line x1="72.00" y1="78.58" x2="75.70" y2="78.58" stroke="#111" stroke-width="1.2" />
<line x1="310.80" y1="78.58" x2="307.10" y2="78.58" stroke="#111" stroke-width="1.2" />
<line x1="72.00" y1="65.94" x2="75.70" y2="65.94" stroke="#111" stroke-width="1.2" />
<line x1="310.80" y1="65.94" x2="307.10" y2="65.94" stroke="#111" stroke-width="1.2" />
<line x1="72.00" y1="53.29" x2="75.70" y2="53.29" stroke="#111" stroke-width="1.2" />
<line x1="310.80" y1="53.29" x2="307.10" y2="53.29" stroke="#111" stroke-width="1.2" />
<line x1="72.00" y1="40.65" x2="75.70" y2="40.65" stroke="#111" stroke-width="1.2" />
<line x1="310.80" y1="40.65" x2="307.10" y2="40.65" stroke="#111" stroke-width="1.2" />
<line x1="72.00" y1="28.00" x2="75.70" y2="28.00" stroke="#111" stroke-width="1.2" />
<line x1="310.80" y1="28.00" x2="307.10" y2="28.00" stroke="#111" stroke-width="1.2" />
<text x="67.10" y="195.20" font-size="10" text-anchor="end" fill="#111" >0.0</text>
<text x="67.10" y="182.55" font-size="10" text-anchor="end" fill="#111" >0.5</text>
<text x="67.10" y="169.91" font-size="10" text-anchor="end" fill="#111" >1.0</text>
<text x="67.10" y="157.26" font-size="10" text-anchor="end" fill="#111" >1.5</text>
<text x="67.10" y="144.62" font-size="10" text-anchor="end" fill="#111" >2.0</text>
<text x="67.10" y="131.97" font-size="10" text-anchor="end" fill="#111" >2.5</text>
<text x="67.10" y="119.32" font-size="10" text-anchor="end" fill="#111" >3.0</text>
<text x="67.10" y="106.68" font-size="10" text-anchor="end" fill="#111" >3.5</text>
<text x="67.10" y="94.03" font-size="10" text-anchor="end" fill="#111" >4.0</text>
<text x="67.10" y="81.38" font-size="10" text-anchor="end" fill="#111" >4.5</text>
<text x="67.10" y="68.74" font-size="10" text-anchor="end" fill="#111" >5.0</text>
<text x="67.10" y="56.09" font-size="10" text-anchor="end" fill="#111" >5.5</text>
<text x="67.10" y="43.45" font-size="10" text-anchor="end" fill="#111" >6.0</text>
<text x="67.10" y="30.80" font-size="10" text-anchor="end" fill="#111" >6.5</text>
<text x="115.50" y="75.20" font-size="9.6" text-anchor="middle" fill="#111" >(100)</text>
<text x="129.90" y="52.50" font-size="9.6" text-anchor="middle" fill="#111" >(002)</text>
<text x="140.90" y="75.90" font-size="9.6" text-anchor="middle" fill="#111" >(101)</text>
<text x="179.90" y="75.80" font-size="9.6" text-anchor="middle" fill="#111" >(102)</text>
<text x="216.00" y="82.10" font-size="9.6" text-anchor="middle" fill="#111" >(110)</text>
<text x="242.40" y="78.90" font-size="9.6" text-anchor="middle" fill="#111" >(103)</text>
<text x="263.80" y="88.00" font-size="9.6" text-anchor="middle" fill="#111" >(112)</text>
<text x="2.60" y="34.10" font-size="16" text-anchor="start" fill="#111" >(a)</text>
<text transform="translate(46.20,122.00) rotate(-90)" font-size="13.65" text-anchor="middle" fill="#111" >Normalized Intensity (arb. unit)</text>
<text x="169.30" y="222.20" font-size="13.2" text-anchor="start" fill="#111" ><tspan font-family="Liberation Serif, serif" font-size="14">2θ</tspan> (deg.)</text>
<rect x="217.30" y="4.30" width="82.70" height="67.30" fill="#000"/>
<rect x="214.30" y="1.30" width="82.70" height="67.30" fill="#fff" stroke="#666" stroke-width="0.7"/>
<line x1="221.00" y1="12.10" x2="243.30" y2="12.10" stroke="#151515" stroke-width="1.9" />
<text x="245.60" y="15.20" font-size="8.6" text-anchor="start" fill="#111" >P</text>
<text x="252.20" y="18.10" font-size="4.9" text-anchor="start" fill="#333" font-weight="normal">ECWR</text>
<text x="269.60" y="14.90" font-size="8.0" text-anchor="start" fill="#111" >0W</text>
<line x1="221.00" y1="23.50" x2="243.30" y2="23.50" stroke="#f01414" stroke-width="1.9" />
<text x="245.60" y="26.60" font-size="8.6" text-anchor="start" fill="#111" >P</text>
<text x="252.20" y="29.50" font-size="4.9" text-anchor="start" fill="#333" font-weight="normal">ECWR</text>
<text x="269.60" y="26.30" font-size="8.0" text-anchor="start" fill="#111" >100W</text>
<line x1="221.00" y1="34.80" x2="243.30" y2="34.80" stroke="#12e012" stroke-width="1.9" />
<text x="245.60" y="37.90" font-size="8.6" text-anchor="start" fill="#111" >P</text>
<text x="252.20" y="40.80" font-size="4.9" text-anchor="start" fill="#333" font-weight="normal">ECWR</text>
<text x="269.60" y="37.60" font-size="8.0" text-anchor="start" fill="#111" >200W</text>
<line x1="221.00" y1="46.10" x2="243.30" y2="46.10" stroke="#2222f0" stroke-width="1.9" />
<text x="245.60" y="49.20" font-size="8.6" text-anchor="start" fill="#111" >P</text>
<text x="252.20" y="52.10" font-size="4.9" text-anchor="start" fill="#333" font-weight="normal">ECWR</text>
<text x="269.60" y="48.90" font-size="8.0" text-anchor="start" fill="#111" >300W</text>
<line x1="221.00" y1="57.30" x2="243.30" y2="57.30" stroke="#00e6f2" stroke-width="1.9" />
<text x="245.60" y="60.40" font-size="8.6" text-anchor="start" fill="#111" >P</text>
<text x="252.20" y="63.30" font-size="4.9" text-anchor="start" fill="#333" font-weight="normal">ECWR</text>
<text x="269.60" y="60.10" font-size="8.0" text-anchor="start" fill="#111" >380W</text>
<rect x="424.60" y="27.00" width="248.30" height="177.70" fill="none" stroke="#111" stroke-width="1.6"/>
<line x1="453.06" y1="204.70" x2="453.06" y2="202.70" stroke="#111" stroke-width="1.2" />
<line x1="453.06" y1="27.00" x2="453.06" y2="29.00" stroke="#111" stroke-width="1.2" />
<line x1="482.37" y1="204.70" x2="482.37" y2="202.70" stroke="#111" stroke-width="1.2" />
<line x1="482.37" y1="27.00" x2="482.37" y2="29.00" stroke="#111" stroke-width="1.2" />
<line x1="511.69" y1="204.70" x2="511.69" y2="202.70" stroke="#111" stroke-width="1.2" />
<line x1="511.69" y1="27.00" x2="511.69" y2="29.00" stroke="#111" stroke-width="1.2" />
<line x1="541.00" y1="204.70" x2="541.00" y2="202.70" stroke="#111" stroke-width="1.2" />
<line x1="541.00" y1="27.00" x2="541.00" y2="29.00" stroke="#111" stroke-width="1.2" />
<line x1="570.31" y1="204.70" x2="570.31" y2="202.70" stroke="#111" stroke-width="1.2" />
<line x1="570.31" y1="27.00" x2="570.31" y2="29.00" stroke="#111" stroke-width="1.2" />
<line x1="599.63" y1="204.70" x2="599.63" y2="202.70" stroke="#111" stroke-width="1.2" />
<line x1="599.63" y1="27.00" x2="599.63" y2="29.00" stroke="#111" stroke-width="1.2" />
<line x1="628.94" y1="204.70" x2="628.94" y2="202.70" stroke="#111" stroke-width="1.2" />
<line x1="628.94" y1="27.00" x2="628.94" y2="29.00" stroke="#111" stroke-width="1.2" />
<line x1="658.26" y1="204.70" x2="658.26" y2="202.70" stroke="#111" stroke-width="1.2" />
<line x1="658.26" y1="27.00" x2="658.26" y2="29.00" stroke="#111" stroke-width="1.2" />
<line x1="438.40" y1="204.70" x2="438.40" y2="201.00" stroke="#111" stroke-width="1.2" />
<line x1="438.40" y1="27.00" x2="438.40" y2="30.70" stroke="#111" stroke-width="1.2" />
<line x1="467.71" y1="204.70" x2="467.71" y2="201.00" stroke="#111" stroke-width="1.2" />
<line x1="467.71" y1="27.00" x2="467.71" y2="30.70" stroke="#111" stroke-width="1.2" />
<line x1="497.03" y1="204.70" x2="497.03" y2="201.00" stroke="#111" stroke-width="1.2" />
<line x1="497.03" y1="27.00" x2="497.03" y2="30.70" stroke="#111" stroke-width="1.2" />
<line x1="526.34" y1="204.70" x2="526.34" y2="201.00" stroke="#111" stroke-width="1.2" />
<line x1="526.34" y1="27.00" x2="526.34" y2="30.70" stroke="#111" stroke-width="1.2" />
<line x1="555.66" y1="204.70" x2="555.66" y2="201.00" stroke="#111" stroke-width="1.2" />
<line x1="555.66" y1="27.00" x2="555.66" y2="30.70" stroke="#111" stroke-width="1.2" />
<line x1="584.97" y1="204.70" x2="584.97" y2="201.00" stroke="#111" stroke-width="1.2" />
<line x1="584.97" y1="27.00" x2="584.97" y2="30.70" stroke="#111" stroke-width="1.2" />
<line x1="614.29" y1="204.70" x2="614.29" y2="201.00" stroke="#111" stroke-width="1.2" />
<line x1="614.29" y1="27.00" x2="614.29" y2="30.70" stroke="#111" stroke-width="1.2" />
<line x1="643.60" y1="204.70" x2="643.60" y2="201.00" stroke="#111" stroke-width="1.2" />
<line x1="643.60" y1="27.00" x2="643.60" y2="30.70" stroke="#111" stroke-width="1.2" />
<line x1="672.91" y1="204.70" x2="672.91" y2="201.00" stroke="#111" stroke-width="1.2" />
<line x1="672.91" y1="27.00" x2="672.91" y2="30.70" stroke="#111" stroke-width="1.2" />
<text x="437.60" y="217.10" font-size="10.4" text-anchor="middle" fill="#111" >0</text>
<text x="466.91" y="217.10" font-size="10.4" text-anchor="middle" fill="#111" >50</text>
<text x="496.23" y="217.10" font-size="10.4" text-anchor="middle" fill="#111" >100</text>
<text x="525.54" y="217.10" font-size="10.4" text-anchor="middle" fill="#111" >150</text>
<text x="554.86" y="217.10" font-size="10.4" text-anchor="middle" fill="#111" >200</text>
<text x="584.17" y="217.10" font-size="10.4" text-anchor="middle" fill="#111" >250</text>
<text x="613.49" y="217.10" font-size="10.4" text-anchor="middle" fill="#111" >300</text>
<text x="642.80" y="217.10" font-size="10.4" text-anchor="middle" fill="#111" >350</text>
<text x="672.11" y="217.10" font-size="10.4" text-anchor="middle" fill="#111" >400</text>
<line x1="424.60" y1="193.59" x2="426.60" y2="193.59" stroke="#111" stroke-width="1.2" />
<line x1="672.90" y1="193.59" x2="670.90" y2="193.59" stroke="#111" stroke-width="1.2" />
<line x1="424.60" y1="171.38" x2="426.60" y2="171.38" stroke="#111" stroke-width="1.2" />
<line x1="672.90" y1="171.38" x2="670.90" y2="171.38" stroke="#111" stroke-width="1.2" />
<line x1="424.60" y1="149.17" x2="426.60" y2="149.17" stroke="#111" stroke-width="1.2" />
<line x1="672.90" y1="149.17" x2="670.90" y2="149.17" stroke="#111" stroke-width="1.2" />
<line x1="424.60" y1="126.96" x2="426.60" y2="126.96" stroke="#111" stroke-width="1.2" />
<line x1="672.90" y1="126.96" x2="670.90" y2="126.96" stroke="#111" stroke-width="1.2" />
<line x1="424.60" y1="104.74" x2="426.60" y2="104.74" stroke="#111" stroke-width="1.2" />
<line x1="672.90" y1="104.74" x2="670.90" y2="104.74" stroke="#111" stroke-width="1.2" />
<line x1="424.60" y1="82.53" x2="426.60" y2="82.53" stroke="#111" stroke-width="1.2" />
<line x1="672.90" y1="82.53" x2="670.90" y2="82.53" stroke="#111" stroke-width="1.2" />
<line x1="424.60" y1="60.32" x2="426.60" y2="60.32" stroke="#111" stroke-width="1.2" />
<line x1="672.90" y1="60.32" x2="670.90" y2="60.32" stroke="#111" stroke-width="1.2" />
<line x1="424.60" y1="38.11" x2="426.60" y2="38.11" stroke="#111" stroke-width="1.2" />
<line x1="672.90" y1="38.11" x2="670.90" y2="38.11" stroke="#111" stroke-width="1.2" />
<line x1="424.60" y1="204.70" x2="428.30" y2="204.70" stroke="#111" stroke-width="1.2" />
<line x1="672.90" y1="204.70" x2="669.20" y2="204.70" stroke="#111" stroke-width="1.2" />
<line x1="424.60" y1="182.49" x2="428.30" y2="182.49" stroke="#111" stroke-width="1.2" />
<line x1="672.90" y1="182.49" x2="669.20" y2="182.49" stroke="#111" stroke-width="1.2" />
<line x1="424.60" y1="160.27" x2="428.30" y2="160.27" stroke="#111" stroke-width="1.2" />
<line x1="672.90" y1="160.27" x2="669.20" y2="160.27" stroke="#111" stroke-width="1.2" />
<line x1="424.60" y1="138.06" x2="428.30" y2="138.06" stroke="#111" stroke-width="1.2" />
<line x1="672.90" y1="138.06" x2="669.20" y2="138.06" stroke="#111" stroke-width="1.2" />
<line x1="424.60" y1="115.85" x2="428.30" y2="115.85" stroke="#111" stroke-width="1.2" />
<line x1="672.90" y1="115.85" x2="669.20" y2="115.85" stroke="#111" stroke-width="1.2" />
<line x1="424.60" y1="93.64" x2="428.30" y2="93.64" stroke="#111" stroke-width="1.2" />
<line x1="672.90" y1="93.64" x2="669.20" y2="93.64" stroke="#111" stroke-width="1.2" />
<line x1="424.60" y1="71.43" x2="428.30" y2="71.43" stroke="#111" stroke-width="1.2" />
<line x1="672.90" y1="71.43" x2="669.20" y2="71.43" stroke="#111" stroke-width="1.2" />
<line x1="424.60" y1="49.21" x2="428.30" y2="49.21" stroke="#111" stroke-width="1.2" />
<line x1="672.90" y1="49.21" x2="669.20" y2="49.21" stroke="#111" stroke-width="1.2" />
<line x1="424.60" y1="27.00" x2="428.30" y2="27.00" stroke="#111" stroke-width="1.2" />
<line x1="672.90" y1="27.00" x2="669.20" y2="27.00" stroke="#111" stroke-width="1.2" />
<text x="418.00" y="207.50" font-size="10.5" text-anchor="end" fill="#111" >40</text>
<text x="418.00" y="185.29" font-size="10.5" text-anchor="end" fill="#111" >45</text>
<text x="418.00" y="163.07" font-size="10.5" text-anchor="end" fill="#111" >50</text>
<text x="418.00" y="140.86" font-size="10.5" text-anchor="end" fill="#111" >55</text>
<text x="418.00" y="118.65" font-size="10.5" text-anchor="end" fill="#111" >60</text>
<text x="418.00" y="96.44" font-size="10.5" text-anchor="end" fill="#111" >65</text>
<text x="418.00" y="74.23" font-size="10.5" text-anchor="end" fill="#111" >70</text>
<text x="418.00" y="52.01" font-size="10.5" text-anchor="end" fill="#111" >75</text>
<text x="418.00" y="29.80" font-size="10.5" text-anchor="end" fill="#111" >80</text>
<rect x="435.25" y="161.57" width="6.3" height="6.3" fill="#000"/>
<rect x="493.88" y="138.91" width="6.3" height="6.3" fill="#000"/>
<rect x="552.51" y="77.16" width="6.3" height="6.3" fill="#000"/>
<rect x="611.14" y="188.22" width="6.3" height="6.3" fill="#000"/>
<rect x="658.04" y="46.06" width="6.3" height="6.3" fill="#000"/>
<text x="361.60" y="34.20" font-size="16" text-anchor="start" fill="#111" >(b)</text>
<text transform="translate(395.50,185.70) rotate(-90)" font-size="13.8" text-anchor="start" fill="#111" >Orientation</text>
<text transform="translate(401.40,109.60) rotate(-90)" font-size="8.2" text-anchor="start" fill="#111" font-weight="normal" style="stroke-width:0.45px">(002)</text>
<text transform="translate(395.50,85.60) rotate(-90)" font-size="13.5" text-anchor="start" fill="#111" >(%)</text>
<text x="519.60" y="231.80" font-size="13.6" text-anchor="start" fill="#111" >P</text>
<text x="529.60" y="237.00" font-size="8.3" text-anchor="start" fill="#111" >ECWR</text>
<text x="560.20" y="231.80" font-size="13.6" text-anchor="start" fill="#111" >(W)</text>
<rect x="436.80" y="38.10" width="81.30" height="11.90" fill="#000"/>
<rect x="434.00" y="35.30" width="81.30" height="11.90" fill="#fff" stroke="#666" stroke-width="0.7"/>
<rect x="447.00" y="39.80" width="4.6" height="4.6" fill="#000"/>
<text x="464.30" y="45.00" font-size="8.4" text-anchor="start" fill="#111" >orientation</text>
<rect x="70.80" y="248.70" width="242.70" height="172.30" fill="none" stroke="#111" stroke-width="1.6"/>
<polyline points="70.8,420.1 72.0,420.1 73.2,420.1 74.4,420.1 75.7,420.1 76.9,420.1 78.1,420.1 79.3,420.1 80.5,420.2 81.7,420.2 82.9,420.2 84.1,420.2 85.4,420.2 86.6,420.2 87.8,420.2 89.0,420.2 90.2,420.2 91.4,420.2 92.6,420.2 93.9,420.2 95.1,420.2 96.3,420.2 97.5,420.2 98.7,420.2 99.9,420.2 101.1,420.2 102.4,420.1 103.6,420.1 104.8,420.1 106.0,420.1 107.2,420.1 108.4,420.0 109.6,420.0 110.8,419.9 112.1,419.9 113.3,419.8 114.5,419.8 115.7,419.7 116.9,419.6 118.1,419.6 119.3,419.5 120.6,419.4 121.8,419.3 123.0,419.2 124.2,419.1 125.4,419.0 126.6,418.9 127.8,418.8 129.0,418.7 130.3,418.6 131.5,418.5 132.7,418.4 133.9,418.2 135.1,418.1 136.3,417.9 137.5,417.7 138.8,417.4 140.0,417.2 141.2,416.8 142.4,416.5 143.6,416.1 144.8,415.7 146.0,415.3 147.3,414.8 148.5,414.3 149.7,413.7 150.9,413.2 152.1,412.5 153.3,411.6 154.5,410.7 155.7,409.5 157.0,408.3 158.2,406.8 159.4,405.3 160.6,403.6 161.8,401.3 163.0,398.7 164.2,395.8 165.5,392.7 166.7,389.7 167.9,386.4 169.1,383.0 170.3,379.2 171.5,375.1 172.7,370.4 173.9,365.0 175.2,359.0 176.4,352.6 177.6,345.8 178.8,338.2 180.0,330.3 181.2,322.4 182.4,314.4 183.7,306.3 184.9,298.1 186.1,289.9 187.3,281.6 188.5,273.4 189.7,265.9 190.9,258.4 192.2,253.2 193.4,249.6 194.6,248.9 195.8,251.0 197.0,254.2 198.2,258.7 199.4,264.8 200.6,271.8 201.9,280.3 203.1,289.6 204.3,298.7 205.5,308.2 206.7,317.7 207.9,326.6 209.1,335.3 210.4,343.5 211.6,350.9 212.8,357.3 214.0,363.2 215.2,368.5 216.4,373.0 217.6,376.6 218.8,379.9 220.1,382.8 221.3,385.5 222.5,387.8 223.7,389.9 224.9,391.8 226.1,393.5 227.3,395.2 228.6,396.7 229.8,398.1 231.0,399.4 232.2,400.5 233.4,401.5 234.6,402.4 235.8,403.2 237.0,403.9 238.3,404.6 239.5,405.2 240.7,405.8 241.9,406.3 243.1,406.8 244.3,407.3 245.5,407.7 246.8,408.1 248.0,408.5 249.2,408.9 250.4,409.3 251.6,409.7 252.8,410.0 254.0,410.4 255.3,410.7 256.5,411.0 257.7,411.3 258.9,411.5 260.1,411.8 261.3,412.0 262.5,412.3 263.7,412.5 265.0,412.7 266.2,412.9 267.4,413.0 268.6,413.2 269.8,413.4 271.0,413.6 272.2,413.8 273.5,413.9 274.7,414.1 275.9,414.3 277.1,414.5 278.3,414.7 279.5,414.9 280.7,415.1 281.9,415.3 283.2,415.4 284.4,415.6 285.6,415.8 286.8,415.9 288.0,416.1 289.2,416.2 290.4,416.3 291.7,416.4 292.9,416.5 294.1,416.6 295.3,416.7 296.5,416.8 297.7,416.9 298.9,416.9 300.2,417.0 301.4,417.1 302.6,417.2 303.8,417.3 305.0,417.3 306.2,417.4 307.4,417.4 308.6,417.5 309.9,417.5 311.1,417.5 312.3,417.5 313.5,417.6" fill="none" stroke="#151515" stroke-width="1.8" stroke-linejoin="round" stroke-linecap="round"/>
<polyline points="70.8,420.1 72.0,420.1 73.2,420.1 74.4,420.1 75.7,420.1 76.9,420.1 78.1,420.1 79.3,420.1 80.5,420.2 81.7,420.2 82.9,420.2 84.1,420.2 85.4,420.2 86.6,420.2 87.8,420.2 89.0,420.2 90.2,420.2 91.4,420.2 92.6,420.2 93.9,420.2 95.1,420.2 96.3,420.2 97.5,420.2 98.7,420.2 99.9,420.2 101.1,420.2 102.4,420.2 103.6,420.1 104.8,420.1 106.0,420.1 107.2,420.1 108.4,420.1 109.6,420.0 110.8,420.0 112.1,419.9 113.3,419.9 114.5,419.8 115.7,419.8 116.9,419.7 118.1,419.6 119.3,419.5 120.6,419.5 121.8,419.4 123.0,419.3 124.2,419.2 125.4,419.1 126.6,419.0 127.8,418.9 129.0,418.8 130.3,418.7 131.5,418.6 132.7,418.4 133.9,418.3 135.1,418.2 136.3,418.0 137.5,417.8 138.8,417.6 140.0,417.4 141.2,417.1 142.4,416.7 143.6,416.4 144.8,416.0 146.0,415.6 147.3,415.1 148.5,414.6 149.7,414.1 150.9,413.5 152.1,413.0 153.3,412.2 154.5,411.4 155.7,410.3 157.0,409.1 158.2,407.8 159.4,406.4 160.6,404.8 161.8,402.9 163.0,400.6 164.2,397.8 165.5,394.9 166.7,391.8 167.9,388.7 169.1,385.4 170.3,381.8 171.5,378.0 172.7,373.7 173.9,368.8 175.2,363.2 176.4,357.0 177.6,350.6 178.8,343.5 180.0,335.8 181.2,327.8 182.4,319.9 183.7,311.9 184.9,303.7 186.1,295.6 187.3,287.3 188.5,279.0 189.7,271.1 190.9,263.5 192.2,256.5 193.4,251.9 194.6,249.0 195.8,248.7 197.0,248.7 198.2,248.7 199.4,251.1 200.6,255.8 201.9,265.0 203.1,274.2 204.3,283.4 205.5,293.0 206.7,302.8 207.9,313.1 209.1,323.2 210.4,333.1 211.6,342.8 212.8,351.3 214.0,358.5 215.2,364.9 216.4,370.5 217.6,375.2 218.8,379.4 220.1,383.1 221.3,386.4 222.5,389.3 223.7,391.9 224.9,394.3 226.1,396.5 227.3,398.4 228.6,400.2 229.8,401.6 231.0,402.8 232.2,403.9 233.4,404.8 234.6,405.7 235.8,406.5 237.0,407.2 238.3,407.8 239.5,408.4 240.7,408.8 241.9,409.3 243.1,409.7 244.3,410.2 245.5,410.6 246.8,410.9 248.0,411.3 249.2,411.6 250.4,412.0 251.6,412.3 252.8,412.5 254.0,412.8 255.3,413.0 256.5,413.3 257.7,413.4 258.9,413.6 260.1,413.8 261.3,413.9 262.5,414.0 263.7,414.1 265.0,414.2 266.2,414.3 267.4,414.3 268.6,414.4 269.8,414.5 271.0,414.6 272.2,414.6 273.5,414.7 274.7,414.8 275.9,414.9 277.1,415.0 278.3,415.1 279.5,415.2 280.7,415.3 281.9,415.4 283.2,415.5 284.4,415.6 285.6,415.7 286.8,415.8 288.0,415.8 289.2,415.8 290.4,415.8 291.7,415.8 292.9,415.8 294.1,415.8 295.3,415.8 296.5,415.8 297.7,415.8 298.9,415.8 300.2,415.8 301.4,415.8 302.6,415.8 303.8,415.8 305.0,415.8 306.2,415.8 307.4,415.8 308.6,415.8 309.9,415.8 311.1,415.8 312.3,415.8 313.5,415.8" fill="none" stroke="#f01414" stroke-width="1.8" stroke-linejoin="round" stroke-linecap="round"/>
<polyline points="70.8,420.1 72.0,420.1 73.2,420.1 74.4,420.1 75.7,420.1 76.9,420.1 78.1,420.1 79.3,420.1 80.5,420.2 81.7,420.2 82.9,420.2 84.1,420.2 85.4,420.2 86.6,420.2 87.8,420.2 89.0,420.2 90.2,420.2 91.4,420.2 92.6,420.2 93.9,420.2 95.1,420.2 96.3,420.2 97.5,420.2 98.7,420.2 99.9,420.2 101.1,420.2 102.4,420.1 103.6,420.1 104.8,420.1 106.0,420.1 107.2,420.1 108.4,420.0 109.6,420.0 110.8,419.9 112.1,419.9 113.3,419.8 114.5,419.8 115.7,419.7 116.9,419.6 118.1,419.5 119.3,419.5 120.6,419.4 121.8,419.3 123.0,419.2 124.2,419.1 125.4,419.0 126.6,418.9 127.8,418.8 129.0,418.7 130.3,418.5 131.5,418.4 132.7,418.3 133.9,418.2 135.1,418.0 136.3,417.8 137.5,417.6 138.8,417.3 140.0,417.0 141.2,416.7 142.4,416.3 143.6,415.9 144.8,415.5 146.0,415.0 147.3,414.5 148.5,414.0 149.7,413.5 150.9,412.9 152.1,412.1 153.3,411.2 154.5,410.2 155.7,409.0 157.0,407.6 158.2,406.2 159.4,404.6 160.6,402.6 161.8,400.2 163.0,397.4 164.2,394.4 165.5,391.3 166.7,388.2 167.9,384.9 169.1,381.3 170.3,377.4 171.5,373.0 172.7,367.9 173.9,362.2 175.2,356.1 176.4,349.6 177.6,342.3 178.8,334.5 180.0,326.6 181.2,318.7 182.4,310.6 183.7,302.5 184.9,294.3 186.1,286.0 187.3,277.8 188.5,269.9 189.7,262.3 190.9,255.5 192.2,251.8 193.4,249.2 194.6,248.9 195.8,251.0 197.0,254.2 198.2,258.7 199.4,264.8 200.6,271.8 201.9,280.3 203.1,289.6 204.3,298.7 205.5,308.2 206.7,317.7 207.9,326.6 209.1,335.3 210.4,343.5 211.6,350.9 212.8,357.2 214.0,363.0 215.2,368.3 216.4,372.9 217.6,377.0 218.8,380.7 220.1,384.1 221.3,387.2 222.5,390.0 223.7,392.4 224.9,394.7 226.1,396.9 227.3,398.8 228.6,400.5 229.8,401.9 231.0,403.1 232.2,404.2 233.4,405.2 234.6,406.1 235.8,406.9 237.0,407.7 238.3,408.3 239.5,408.9 240.7,409.4 241.9,409.9 243.1,410.4 244.3,410.8 245.5,411.2 246.8,411.6 248.0,412.0 249.2,412.4 250.4,412.7 251.6,413.0 252.8,413.3 254.0,413.6 255.3,413.8 256.5,414.1 257.7,414.3 258.9,414.4 260.1,414.6 261.3,414.7 262.5,414.8 263.7,414.9 265.0,415.0 266.2,415.1 267.4,415.2 268.6,415.3 269.8,415.3 271.0,415.4 272.2,415.5 273.5,415.6 274.7,415.7 275.9,415.7 277.1,415.8 278.3,415.9 279.5,416.0 280.7,416.1 281.9,416.2 283.2,416.3 284.4,416.3 285.6,416.4 286.8,416.5 288.0,416.6 289.2,416.7 290.4,416.8 291.7,416.9 292.9,417.0 294.1,417.0 295.3,417.1 296.5,417.2 297.7,417.3 298.9,417.4 300.2,417.5 301.4,417.6 302.6,417.6 303.8,417.7 305.0,417.8 306.2,417.9 307.4,418.0 308.6,418.1 309.9,418.2 311.1,418.2 312.3,418.3 313.5,418.4" fill="none" stroke="#12e012" stroke-width="1.8" stroke-linejoin="round" stroke-linecap="round"/>
<polyline points="70.8,417.9 72.0,417.9 73.2,417.9 74.4,417.9 75.7,417.9 76.9,417.9 78.1,417.9 79.3,417.8 80.5,417.8 81.7,417.8 82.9,417.8 84.1,417.8 85.4,417.8 86.6,417.7 87.8,417.7 89.0,417.7 90.2,417.6 91.4,417.6 92.6,417.6 93.9,417.6 95.1,417.5 96.3,417.5 97.5,417.4 98.7,417.4 99.9,417.4 101.1,417.3 102.4,417.3 103.6,417.2 104.8,417.1 106.0,417.0 107.2,416.9 108.4,416.8 109.6,416.7 110.8,416.5 112.1,416.4 113.3,416.2 114.5,416.0 115.7,415.8 116.9,415.6 118.1,415.4 119.3,415.2 120.6,415.0 121.8,414.7 123.0,414.4 124.2,414.1 125.4,413.6 126.6,413.0 127.8,412.4 129.0,411.7 130.3,410.9 131.5,410.0 132.7,409.1 133.9,408.2 135.1,407.2 136.3,406.2 137.5,405.1 138.8,403.8 140.0,402.3 141.2,400.7 142.4,399.0 143.6,397.2 144.8,395.3 146.0,393.3 147.3,391.2 148.5,389.1 149.7,386.9 150.9,384.4 152.1,381.8 153.3,379.0 154.5,376.1 155.7,372.9 157.0,369.4 158.2,365.5 159.4,361.4 160.6,357.0 161.8,352.5 163.0,347.7 164.2,342.6 165.5,337.2 166.7,331.7 167.9,326.3 169.1,321.0 170.3,315.7 171.5,310.5 172.7,305.2 173.9,299.9 175.2,294.5 176.4,289.0 177.6,283.3 178.8,277.7 180.0,272.2 181.2,267.0 182.4,261.6 183.7,256.7 184.9,253.6 186.1,251.4 187.3,249.6 188.5,248.7 189.7,249.1 190.9,250.5 192.2,252.5 193.4,254.7 194.6,257.6 195.8,261.2 197.0,265.3 198.2,269.6 199.4,274.7 200.6,280.2 201.9,286.1 203.1,292.0 204.3,297.6 205.5,303.4 206.7,309.3 207.9,315.1 209.1,320.8 210.4,326.1 211.6,330.9 212.8,335.3 214.0,339.5 215.2,343.4 216.4,347.3 217.6,351.0 218.8,354.8 220.1,358.6 221.3,362.4 222.5,366.0 223.7,369.4 224.9,372.4 226.1,374.9 227.3,377.2 228.6,379.4 229.8,381.4 231.0,383.3 232.2,385.0 233.4,386.7 234.6,388.2 235.8,389.7 237.0,391.0 238.3,392.4 239.5,393.6 240.7,394.9 241.9,396.1 243.1,397.2 244.3,398.2 245.5,399.1 246.8,399.9 248.0,400.6 249.2,401.2 250.4,401.7 251.6,402.1 252.8,402.6 254.0,403.0 255.3,403.4 256.5,403.7 257.7,404.1 258.9,404.4 260.1,404.8 261.3,405.2 262.5,405.6 263.7,405.9 265.0,406.3 266.2,406.7 267.4,407.0 268.6,407.4 269.8,407.7 271.0,408.1 272.2,408.5 273.5,408.9 274.7,409.2 275.9,409.6 277.1,410.0 278.3,410.3 279.5,410.7 280.7,411.0 281.9,411.4 283.2,411.7 284.4,412.1 285.6,412.5 286.8,412.8 288.0,413.1 289.2,413.3 290.4,413.5 291.7,413.6 292.9,413.6 294.1,413.5 295.3,413.5 296.5,413.4 297.7,413.2 298.9,413.1 300.2,412.9 301.4,412.7 302.6,412.6 303.8,412.4 305.0,412.2 306.2,412.0 307.4,411.8 308.6,411.5 309.9,411.2 311.1,410.9 312.3,410.6 313.5,410.3" fill="none" stroke="#2222f0" stroke-width="1.8" stroke-linejoin="round" stroke-linecap="round"/>
<polyline points="70.8,418.9 72.0,418.9 73.2,418.9 74.4,418.9 75.7,418.9 76.9,418.9 78.1,418.9 79.3,418.8 80.5,418.8 81.7,418.8 82.9,418.7 84.1,418.7 85.4,418.7 86.6,418.6 87.8,418.6 89.0,418.5 90.2,418.5 91.4,418.4 92.6,418.4 93.9,418.3 95.1,418.2 96.3,418.2 97.5,418.1 98.7,418.0 99.9,417.9 101.1,417.8 102.4,417.7 103.6,417.6 104.8,417.4 106.0,417.2 107.2,416.9 108.4,416.6 109.6,416.3 110.8,416.0 112.1,415.7 113.3,415.3 114.5,414.9 115.7,414.5 116.9,414.1 118.1,413.7 119.3,413.3 120.6,412.8 121.8,412.2 123.0,411.6 124.2,410.9 125.4,410.1 126.6,409.3 127.8,408.4 129.0,407.5 130.3,406.5 131.5,405.4 132.7,404.3 133.9,402.9 135.1,401.4 136.3,399.7 137.5,397.9 138.8,396.0 140.0,394.1 141.2,392.0 142.4,390.0 143.6,387.9 144.8,385.7 146.0,383.4 147.3,381.0 148.5,378.3 149.7,375.5 150.9,372.5 152.1,369.1 153.3,365.4 154.5,361.4 155.7,357.2 157.0,352.9 158.2,348.2 159.4,343.2 160.6,337.8 161.8,332.3 163.0,326.8 164.2,321.4 165.5,315.9 166.7,310.4 167.9,304.8 169.1,299.3 170.3,293.7 171.5,287.9 172.7,282.1 173.9,276.4 175.2,271.1 176.4,266.5 177.6,262.0 178.8,258.0 180.0,254.8 181.2,252.7 182.4,250.9 183.7,249.5 184.9,248.7 186.1,249.0 187.3,250.1 188.5,251.7 189.7,253.7 190.9,255.9 192.2,259.0 193.4,262.7 194.6,266.7 195.8,270.7 197.0,275.3 198.2,280.2 199.4,285.4 200.6,290.5 201.9,295.5 203.1,300.4 204.3,305.4 205.5,310.5 206.7,315.5 207.9,320.3 209.1,325.0 210.4,329.5 211.6,333.6 212.8,337.6 214.0,341.4 215.2,345.1 216.4,348.9 217.6,352.8 218.8,356.9 220.1,361.1 221.3,365.3 222.5,369.2 223.7,372.6 224.9,375.5 226.1,378.0 227.3,380.5 228.6,382.7 229.8,384.8 231.0,386.8 232.2,388.5 233.4,390.1 234.6,391.4 235.8,392.7 237.0,393.9 238.3,394.9 239.5,395.9 240.7,396.9 241.9,397.8 243.1,398.6 244.3,399.4 245.5,400.3 246.8,401.1 248.0,401.9 249.2,402.7 250.4,403.4 251.6,404.2 252.8,404.9 254.0,405.6 255.3,406.2 256.5,406.8 257.7,407.3 258.9,407.8 260.1,408.3 261.3,408.6 262.5,409.0 263.7,409.3 265.0,409.6 266.2,409.8 267.4,410.1 268.6,410.4 269.8,410.7 271.0,411.0 272.2,411.3 273.5,411.6 274.7,411.9 275.9,412.3 277.1,412.6 278.3,412.9 279.5,413.3 280.7,413.6 281.9,413.9 283.2,414.2 284.4,414.5 285.6,414.8 286.8,415.0 288.0,415.3 289.2,415.5 290.4,415.7 291.7,415.9 292.9,416.1 294.1,416.3 295.3,416.4 296.5,416.6 297.7,416.8 298.9,417.0 300.2,417.1 301.4,417.3 302.6,417.5 303.8,417.6 305.0,417.7 306.2,417.9 307.4,418.0 308.6,418.1 309.9,418.2 311.1,418.3 312.3,418.3 313.5,418.4" fill="none" stroke="#00e6f2" stroke-width="1.8" stroke-linejoin="round" stroke-linecap="round"/>
<line x1="95.07" y1="421.00" x2="95.07" y2="419.00" stroke="#111" stroke-width="1.2" />
<line x1="95.07" y1="248.70" x2="95.07" y2="250.70" stroke="#111" stroke-width="1.2" />
<line x1="143.61" y1="421.00" x2="143.61" y2="419.00" stroke="#111" stroke-width="1.2" />
<line x1="143.61" y1="248.70" x2="143.61" y2="250.70" stroke="#111" stroke-width="1.2" />
<line x1="192.15" y1="421.00" x2="192.15" y2="419.00" stroke="#111" stroke-width="1.2" />
<line x1="192.15" y1="248.70" x2="192.15" y2="250.70" stroke="#111" stroke-width="1.2" />
<line x1="240.69" y1="421.00" x2="240.69" y2="419.00" stroke="#111" stroke-width="1.2" />
<line x1="240.69" y1="248.70" x2="240.69" y2="250.70" stroke="#111" stroke-width="1.2" />
<line x1="289.23" y1="421.00" x2="289.23" y2="419.00" stroke="#111" stroke-width="1.2" />
<line x1="289.23" y1="248.70" x2="289.23" y2="250.70" stroke="#111" stroke-width="1.2" />
<line x1="70.80" y1="421.00" x2="70.80" y2="417.30" stroke="#111" stroke-width="1.2" />
<line x1="70.80" y1="248.70" x2="70.80" y2="252.40" stroke="#111" stroke-width="1.2" />
<line x1="119.34" y1="421.00" x2="119.34" y2="417.30" stroke="#111" stroke-width="1.2" />
<line x1="119.34" y1="248.70" x2="119.34" y2="252.40" stroke="#111" stroke-width="1.2" />
<line x1="167.88" y1="421.00" x2="167.88" y2="417.30" stroke="#111" stroke-width="1.2" />
<line x1="167.88" y1="248.70" x2="167.88" y2="252.40" stroke="#111" stroke-width="1.2" />
<line x1="216.42" y1="421.00" x2="216.42" y2="417.30" stroke="#111" stroke-width="1.2" />
<line x1="216.42" y1="248.70" x2="216.42" y2="252.40" stroke="#111" stroke-width="1.2" />
<line x1="264.96" y1="421.00" x2="264.96" y2="417.30" stroke="#111" stroke-width="1.2" />
<line x1="264.96" y1="248.70" x2="264.96" y2="252.40" stroke="#111" stroke-width="1.2" />
<line x1="313.50" y1="421.00" x2="313.50" y2="417.30" stroke="#111" stroke-width="1.2" />
<line x1="313.50" y1="248.70" x2="313.50" y2="252.40" stroke="#111" stroke-width="1.2" />
<text x="69.00" y="433.80" font-size="9.8" text-anchor="middle" fill="#111" >33.0</text>
<text x="117.54" y="433.80" font-size="9.8" text-anchor="middle" fill="#111" >33.5</text>
<text x="166.08" y="433.80" font-size="9.8" text-anchor="middle" fill="#111" >34.0</text>
<text x="214.62" y="433.80" font-size="9.8" text-anchor="middle" fill="#111" >34.5</text>
<text x="263.16" y="433.80" font-size="9.8" text-anchor="middle" fill="#111" >35.0</text>
<text x="311.70" y="433.80" font-size="9.8" text-anchor="middle" fill="#111" >35.5</text>
<line x1="70.80" y1="403.77" x2="72.80" y2="403.77" stroke="#111" stroke-width="1.2" />
<line x1="313.50" y1="403.77" x2="311.50" y2="403.77" stroke="#111" stroke-width="1.2" />
<line x1="70.80" y1="369.31" x2="72.80" y2="369.31" stroke="#111" stroke-width="1.2" />
<line x1="313.50" y1="369.31" x2="311.50" y2="369.31" stroke="#111" stroke-width="1.2" />
<line x1="70.80" y1="334.85" x2="72.80" y2="334.85" stroke="#111" stroke-width="1.2" />
<line x1="313.50" y1="334.85" x2="311.50" y2="334.85" stroke="#111" stroke-width="1.2" />
<line x1="70.80" y1="300.39" x2="72.80" y2="300.39" stroke="#111" stroke-width="1.2" />
<line x1="313.50" y1="300.39" x2="311.50" y2="300.39" stroke="#111" stroke-width="1.2" />
<line x1="70.80" y1="265.93" x2="72.80" y2="265.93" stroke="#111" stroke-width="1.2" />
<line x1="313.50" y1="265.93" x2="311.50" y2="265.93" stroke="#111" stroke-width="1.2" />
<line x1="70.80" y1="421.00" x2="74.50" y2="421.00" stroke="#111" stroke-width="1.2" />
<line x1="313.50" y1="421.00" x2="309.80" y2="421.00" stroke="#111" stroke-width="1.2" />
<line x1="70.80" y1="386.54" x2="74.50" y2="386.54" stroke="#111" stroke-width="1.2" />
<line x1="313.50" y1="386.54" x2="309.80" y2="386.54" stroke="#111" stroke-width="1.2" />
<line x1="70.80" y1="352.08" x2="74.50" y2="352.08" stroke="#111" stroke-width="1.2" />
<line x1="313.50" y1="352.08" x2="309.80" y2="352.08" stroke="#111" stroke-width="1.2" />
<line x1="70.80" y1="317.62" x2="74.50" y2="317.62" stroke="#111" stroke-width="1.2" />
<line x1="313.50" y1="317.62" x2="309.80" y2="317.62" stroke="#111" stroke-width="1.2" />
<line x1="70.80" y1="283.16" x2="74.50" y2="283.16" stroke="#111" stroke-width="1.2" />
<line x1="313.50" y1="283.16" x2="309.80" y2="283.16" stroke="#111" stroke-width="1.2" />
<line x1="70.80" y1="248.70" x2="74.50" y2="248.70" stroke="#111" stroke-width="1.2" />
<line x1="313.50" y1="248.70" x2="309.80" y2="248.70" stroke="#111" stroke-width="1.2" />
<text x="65.60" y="423.80" font-size="10" text-anchor="end" fill="#111" >0.0</text>
<text x="65.60" y="389.34" font-size="10" text-anchor="end" fill="#111" >0.2</text>
<text x="65.60" y="354.88" font-size="10" text-anchor="end" fill="#111" >0.4</text>
<text x="65.60" y="320.42" font-size="10" text-anchor="end" fill="#111" >0.6</text>
<text x="65.60" y="285.96" font-size="10" text-anchor="end" fill="#111" >0.8</text>
<text x="65.60" y="251.50" font-size="10" text-anchor="end" fill="#111" >1.0</text>
<text x="2.20" y="257.30" font-size="16" text-anchor="start" fill="#111" >(c)</text>
<text transform="translate(46.30,343.10) rotate(-90)" font-size="13.95" text-anchor="middle" fill="#111" >Normalized Intensity (arb. unit)</text>
<text x="172.00" y="449.60" font-size="13.2" text-anchor="start" fill="#111" ><tspan font-family="Liberation Serif, serif" font-size="14">2θ</tspan> (deg.)</text>
<rect x="219.00" y="258.70" width="88.40" height="71.10" fill="#000"/>
<rect x="216.00" y="255.70" width="88.40" height="71.10" fill="#fff" stroke="#666" stroke-width="0.7"/>
<line x1="224.80" y1="268.20" x2="247.00" y2="268.20" stroke="#151515" stroke-width="1.9" />
<text x="250.60" y="271.30" font-size="8.6" text-anchor="start" fill="#111" >P</text>
<text x="257.30" y="274.20" font-size="4.9" text-anchor="start" fill="#333" font-weight="normal">ECWR</text>
<text x="273.80" y="271.00" font-size="8.0" text-anchor="start" fill="#111" >0W</text>
<line x1="224.80" y1="279.50" x2="247.00" y2="279.50" stroke="#f01414" stroke-width="1.9" />
<text x="250.60" y="282.60" font-size="8.6" text-anchor="start" fill="#111" >P</text>
<text x="257.30" y="285.50" font-size="4.9" text-anchor="start" fill="#333" font-weight="normal">ECWR</text>
<text x="273.80" y="282.30" font-size="8.0" text-anchor="start" fill="#111" >100W</text>
<line x1="224.80" y1="291.10" x2="247.00" y2="291.10" stroke="#12e012" stroke-width="1.9" />
<text x="250.60" y="294.20" font-size="8.6" text-anchor="start" fill="#111" >P</text>
<text x="257.30" y="297.10" font-size="4.9" text-anchor="start" fill="#333" font-weight="normal">ECWR</text>
<text x="273.80" y="293.90" font-size="8.0" text-anchor="start" fill="#111" >200W</text>
<line x1="224.80" y1="302.40" x2="247.00" y2="302.40" stroke="#2222f0" stroke-width="1.9" />
<text x="250.60" y="305.50" font-size="8.6" text-anchor="start" fill="#111" >P</text>
<text x="257.30" y="308.40" font-size="4.9" text-anchor="start" fill="#333" font-weight="normal">ECWR</text>
<text x="273.80" y="305.20" font-size="8.0" text-anchor="start" fill="#111" >300W</text>
<line x1="224.80" y1="313.40" x2="247.00" y2="313.40" stroke="#00e6f2" stroke-width="1.9" />
<text x="250.60" y="316.50" font-size="8.6" text-anchor="start" fill="#111" >P</text>
<text x="257.30" y="319.40" font-size="4.9" text-anchor="start" fill="#333" font-weight="normal">ECWR</text>
<text x="273.80" y="316.20" font-size="8.0" text-anchor="start" fill="#111" >380W</text>
<line x1="424.60" y1="254.20" x2="677.40" y2="254.20" stroke="#111" stroke-width="2.0" stroke-dasharray="5.2,2.5"/>
<rect x="424.60" y="241.30" width="252.80" height="180.50" fill="none" stroke="#111" stroke-width="1.6"/>
<line x1="453.63" y1="421.80" x2="453.63" y2="419.80" stroke="#111" stroke-width="1.2" />
<line x1="453.63" y1="241.30" x2="453.63" y2="243.30" stroke="#111" stroke-width="1.2" />
<line x1="483.49" y1="421.80" x2="483.49" y2="419.80" stroke="#111" stroke-width="1.2" />
<line x1="483.49" y1="241.30" x2="483.49" y2="243.30" stroke="#111" stroke-width="1.2" />
<line x1="513.34" y1="421.80" x2="513.34" y2="419.80" stroke="#111" stroke-width="1.2" />
<line x1="513.34" y1="241.30" x2="513.34" y2="243.30" stroke="#111" stroke-width="1.2" />
<line x1="543.20" y1="421.80" x2="543.20" y2="419.80" stroke="#111" stroke-width="1.2" />
<line x1="543.20" y1="241.30" x2="543.20" y2="243.30" stroke="#111" stroke-width="1.2" />
<line x1="573.06" y1="421.80" x2="573.06" y2="419.80" stroke="#111" stroke-width="1.2" />
<line x1="573.06" y1="241.30" x2="573.06" y2="243.30" stroke="#111" stroke-width="1.2" />
<line x1="602.91" y1="421.80" x2="602.91" y2="419.80" stroke="#111" stroke-width="1.2" />
<line x1="602.91" y1="241.30" x2="602.91" y2="243.30" stroke="#111" stroke-width="1.2" />
<line x1="632.77" y1="421.80" x2="632.77" y2="419.80" stroke="#111" stroke-width="1.2" />
<line x1="632.77" y1="241.30" x2="632.77" y2="243.30" stroke="#111" stroke-width="1.2" />
<line x1="662.63" y1="421.80" x2="662.63" y2="419.80" stroke="#111" stroke-width="1.2" />
<line x1="662.63" y1="241.30" x2="662.63" y2="243.30" stroke="#111" stroke-width="1.2" />
<line x1="438.70" y1="421.80" x2="438.70" y2="418.10" stroke="#111" stroke-width="1.2" />
<line x1="438.70" y1="241.30" x2="438.70" y2="245.00" stroke="#111" stroke-width="1.2" />
<line x1="468.56" y1="421.80" x2="468.56" y2="418.10" stroke="#111" stroke-width="1.2" />
<line x1="468.56" y1="241.30" x2="468.56" y2="245.00" stroke="#111" stroke-width="1.2" />
<line x1="498.41" y1="421.80" x2="498.41" y2="418.10" stroke="#111" stroke-width="1.2" />
<line x1="498.41" y1="241.30" x2="498.41" y2="245.00" stroke="#111" stroke-width="1.2" />
<line x1="528.27" y1="421.80" x2="528.27" y2="418.10" stroke="#111" stroke-width="1.2" />
<line x1="528.27" y1="241.30" x2="528.27" y2="245.00" stroke="#111" stroke-width="1.2" />
<line x1="558.13" y1="421.80" x2="558.13" y2="418.10" stroke="#111" stroke-width="1.2" />
<line x1="558.13" y1="241.30" x2="558.13" y2="245.00" stroke="#111" stroke-width="1.2" />
<line x1="587.99" y1="421.80" x2="587.99" y2="418.10" stroke="#111" stroke-width="1.2" />
<line x1="587.99" y1="241.30" x2="587.99" y2="245.00" stroke="#111" stroke-width="1.2" />
<line x1="617.84" y1="421.80" x2="617.84" y2="418.10" stroke="#111" stroke-width="1.2" />
<line x1="617.84" y1="241.30" x2="617.84" y2="245.00" stroke="#111" stroke-width="1.2" />
<line x1="647.70" y1="421.80" x2="647.70" y2="418.10" stroke="#111" stroke-width="1.2" />
<line x1="647.70" y1="241.30" x2="647.70" y2="245.00" stroke="#111" stroke-width="1.2" />
<line x1="677.56" y1="421.80" x2="677.56" y2="418.10" stroke="#111" stroke-width="1.2" />
<line x1="677.56" y1="241.30" x2="677.56" y2="245.00" stroke="#111" stroke-width="1.2" />
<text x="437.90" y="434.60" font-size="10.3" text-anchor="middle" fill="#111" >0</text>
<text x="467.76" y="434.60" font-size="10.3" text-anchor="middle" fill="#111" >50</text>
<text x="497.61" y="434.60" font-size="10.3" text-anchor="middle" fill="#111" >100</text>
<text x="527.47" y="434.60" font-size="10.3" text-anchor="middle" fill="#111" >150</text>
<text x="557.33" y="434.60" font-size="10.3" text-anchor="middle" fill="#111" >200</text>
<text x="587.19" y="434.60" font-size="10.3" text-anchor="middle" fill="#111" >250</text>
<text x="617.04" y="434.60" font-size="10.3" text-anchor="middle" fill="#111" >300</text>
<text x="646.90" y="434.60" font-size="10.3" text-anchor="middle" fill="#111" >350</text>
<text x="676.76" y="434.60" font-size="10.3" text-anchor="middle" fill="#111" >400</text>
<line x1="424.60" y1="406.20" x2="426.60" y2="406.20" stroke="#111" stroke-width="1.2" />
<line x1="677.40" y1="406.20" x2="675.40" y2="406.20" stroke="#111" stroke-width="1.2" />
<line x1="424.60" y1="375.00" x2="426.60" y2="375.00" stroke="#111" stroke-width="1.2" />
<line x1="677.40" y1="375.00" x2="675.40" y2="375.00" stroke="#111" stroke-width="1.2" />
<line x1="424.60" y1="343.80" x2="426.60" y2="343.80" stroke="#111" stroke-width="1.2" />
<line x1="677.40" y1="343.80" x2="675.40" y2="343.80" stroke="#111" stroke-width="1.2" />
<line x1="424.60" y1="312.60" x2="426.60" y2="312.60" stroke="#111" stroke-width="1.2" />
<line x1="677.40" y1="312.60" x2="675.40" y2="312.60" stroke="#111" stroke-width="1.2" />
<line x1="424.60" y1="281.40" x2="426.60" y2="281.40" stroke="#111" stroke-width="1.2" />
<line x1="677.40" y1="281.40" x2="675.40" y2="281.40" stroke="#111" stroke-width="1.2" />
<line x1="424.60" y1="250.20" x2="426.60" y2="250.20" stroke="#111" stroke-width="1.2" />
<line x1="677.40" y1="250.20" x2="675.40" y2="250.20" stroke="#111" stroke-width="1.2" />
<line x1="424.60" y1="421.80" x2="428.30" y2="421.80" stroke="#111" stroke-width="1.2" />
<line x1="677.40" y1="421.80" x2="673.70" y2="421.80" stroke="#111" stroke-width="1.2" />
<line x1="424.60" y1="390.60" x2="428.30" y2="390.60" stroke="#111" stroke-width="1.2" />
<line x1="677.40" y1="390.60" x2="673.70" y2="390.60" stroke="#111" stroke-width="1.2" />
<line x1="424.60" y1="359.40" x2="428.30" y2="359.40" stroke="#111" stroke-width="1.2" />
<line x1="677.40" y1="359.40" x2="673.70" y2="359.40" stroke="#111" stroke-width="1.2" />
<line x1="424.60" y1="328.20" x2="428.30" y2="328.20" stroke="#111" stroke-width="1.2" />
<line x1="677.40" y1="328.20" x2="673.70" y2="328.20" stroke="#111" stroke-width="1.2" />
<line x1="424.60" y1="297.00" x2="428.30" y2="297.00" stroke="#111" stroke-width="1.2" />
<line x1="677.40" y1="297.00" x2="673.70" y2="297.00" stroke="#111" stroke-width="1.2" />
<line x1="424.60" y1="265.80" x2="428.30" y2="265.80" stroke="#111" stroke-width="1.2" />
<line x1="677.40" y1="265.80" x2="673.70" y2="265.80" stroke="#111" stroke-width="1.2" />
<text x="416.40" y="424.60" font-size="10.4" text-anchor="end" fill="#111" >34.15</text>
<text x="416.40" y="393.40" font-size="10.4" text-anchor="end" fill="#111" >34.20</text>
<text x="416.40" y="362.20" font-size="10.4" text-anchor="end" fill="#111" >34.25</text>
<text x="416.40" y="331.00" font-size="10.4" text-anchor="end" fill="#111" >34.30</text>
<text x="416.40" y="299.80" font-size="10.4" text-anchor="end" fill="#111" >34.35</text>
<text x="416.40" y="268.60" font-size="10.4" text-anchor="end" fill="#111" >34.40</text>
<rect x="435.45" y="337.35" width="6.5" height="6.5" fill="#000"/>
<rect x="495.75" y="335.05" width="6.5" height="6.5" fill="#000"/>
<rect x="554.95" y="346.35" width="6.5" height="6.5" fill="#000"/>
<rect x="614.35" y="382.95" width="6.5" height="6.5" fill="#000"/>
<rect x="661.95" y="398.15" width="6.5" height="6.5" fill="#000"/>
<text x="362.60" y="257.60" font-size="16" text-anchor="start" fill="#111" >(d)</text>
<text transform="translate(381.70,378.50) rotate(-90)" font-size="14.4" text-anchor="start" fill="#111" font-family="Liberation Serif, serif">2θ</text>
<text transform="translate(387.30,362.80) rotate(-90)" font-size="8.2" text-anchor="start" fill="#111" font-weight="normal" style="stroke-width:0.45px">(002)</text>
<text transform="translate(381.70,338.30) rotate(-90)" font-size="14.1" text-anchor="start" fill="#111" >(deg.)</text>
<text x="518.30" y="450.30" font-size="13.6" text-anchor="start" fill="#111" >P</text>
<text x="528.70" y="455.50" font-size="8.3" text-anchor="start" fill="#111" >ECWR</text>
<text x="558.80" y="450.30" font-size="13.6" text-anchor="start" fill="#111" >(W)</text>
<text x="610.10" y="272.80" font-size="17.6" text-anchor="middle" fill="#111" >data base</text>
<rect x="442.70" y="402.90" width="62.10" height="12.60" fill="#000"/>
<rect x="439.70" y="399.90" width="62.10" height="12.60" fill="#fff" stroke="#666" stroke-width="0.7"/>
<rect x="451.70" y="405.10" width="4.6" height="4.6" fill="#000"/>
<text x="468.30" y="410.60" font-size="8.4" text-anchor="start" fill="#111" >Center</text>
<rect x="67.80" y="471.40" width="242.60" height="173.50" fill="none" stroke="#111" stroke-width="1.6"/>
<line x1="95.77" y1="644.90" x2="95.77" y2="642.90" stroke="#111" stroke-width="1.2" />
<line x1="95.77" y1="471.40" x2="95.77" y2="473.40" stroke="#111" stroke-width="1.2" />
<line x1="124.31" y1="644.90" x2="124.31" y2="642.90" stroke="#111" stroke-width="1.2" />
<line x1="124.31" y1="471.40" x2="124.31" y2="473.40" stroke="#111" stroke-width="1.2" />
<line x1="152.86" y1="644.90" x2="152.86" y2="642.90" stroke="#111" stroke-width="1.2" />
<line x1="152.86" y1="471.40" x2="152.86" y2="473.40" stroke="#111" stroke-width="1.2" />
<line x1="181.40" y1="644.90" x2="181.40" y2="642.90" stroke="#111" stroke-width="1.2" />
<line x1="181.40" y1="471.40" x2="181.40" y2="473.40" stroke="#111" stroke-width="1.2" />
<line x1="209.94" y1="644.90" x2="209.94" y2="642.90" stroke="#111" stroke-width="1.2" />
<line x1="209.94" y1="471.40" x2="209.94" y2="473.40" stroke="#111" stroke-width="1.2" />
<line x1="238.49" y1="644.90" x2="238.49" y2="642.90" stroke="#111" stroke-width="1.2" />
<line x1="238.49" y1="471.40" x2="238.49" y2="473.40" stroke="#111" stroke-width="1.2" />
<line x1="267.03" y1="644.90" x2="267.03" y2="642.90" stroke="#111" stroke-width="1.2" />
<line x1="267.03" y1="471.40" x2="267.03" y2="473.40" stroke="#111" stroke-width="1.2" />
<line x1="295.57" y1="644.90" x2="295.57" y2="642.90" stroke="#111" stroke-width="1.2" />
<line x1="295.57" y1="471.40" x2="295.57" y2="473.40" stroke="#111" stroke-width="1.2" />
<line x1="81.50" y1="644.90" x2="81.50" y2="641.20" stroke="#111" stroke-width="1.2" />
<line x1="81.50" y1="471.40" x2="81.50" y2="475.10" stroke="#111" stroke-width="1.2" />
<line x1="110.04" y1="644.90" x2="110.04" y2="641.20" stroke="#111" stroke-width="1.2" />
<line x1="110.04" y1="471.40" x2="110.04" y2="475.10" stroke="#111" stroke-width="1.2" />
<line x1="138.59" y1="644.90" x2="138.59" y2="641.20" stroke="#111" stroke-width="1.2" />
<line x1="138.59" y1="471.40" x2="138.59" y2="475.10" stroke="#111" stroke-width="1.2" />
<line x1="167.13" y1="644.90" x2="167.13" y2="641.20" stroke="#111" stroke-width="1.2" />
<line x1="167.13" y1="471.40" x2="167.13" y2="475.10" stroke="#111" stroke-width="1.2" />
<line x1="195.67" y1="644.90" x2="195.67" y2="641.20" stroke="#111" stroke-width="1.2" />
<line x1="195.67" y1="471.40" x2="195.67" y2="475.10" stroke="#111" stroke-width="1.2" />
<line x1="224.21" y1="644.90" x2="224.21" y2="641.20" stroke="#111" stroke-width="1.2" />
<line x1="224.21" y1="471.40" x2="224.21" y2="475.10" stroke="#111" stroke-width="1.2" />
<line x1="252.76" y1="644.90" x2="252.76" y2="641.20" stroke="#111" stroke-width="1.2" />
<line x1="252.76" y1="471.40" x2="252.76" y2="475.10" stroke="#111" stroke-width="1.2" />
<line x1="281.30" y1="644.90" x2="281.30" y2="641.20" stroke="#111" stroke-width="1.2" />
<line x1="281.30" y1="471.40" x2="281.30" y2="475.10" stroke="#111" stroke-width="1.2" />
<line x1="309.84" y1="644.90" x2="309.84" y2="641.20" stroke="#111" stroke-width="1.2" />
<line x1="309.84" y1="471.40" x2="309.84" y2="475.10" stroke="#111" stroke-width="1.2" />
<text x="80.70" y="657.10" font-size="10" text-anchor="middle" fill="#111" >0</text>
<text x="109.24" y="657.10" font-size="10" text-anchor="middle" fill="#111" >50</text>
<text x="137.79" y="657.10" font-size="10" text-anchor="middle" fill="#111" >100</text>
<text x="166.33" y="657.10" font-size="10" text-anchor="middle" fill="#111" >150</text>
<text x="194.87" y="657.10" font-size="10" text-anchor="middle" fill="#111" >200</text>
<text x="223.41" y="657.10" font-size="10" text-anchor="middle" fill="#111" >250</text>
<text x="251.96" y="657.10" font-size="10" text-anchor="middle" fill="#111" >300</text>
<text x="280.50" y="657.10" font-size="10" text-anchor="middle" fill="#111" >350</text>
<text x="309.04" y="657.10" font-size="10" text-anchor="middle" fill="#111" >400</text>
<line x1="67.80" y1="636.23" x2="69.80" y2="636.23" stroke="#111" stroke-width="1.2" />
<line x1="310.40" y1="636.23" x2="308.40" y2="636.23" stroke="#111" stroke-width="1.2" />
<line x1="67.80" y1="618.88" x2="69.80" y2="618.88" stroke="#111" stroke-width="1.2" />
<line x1="310.40" y1="618.88" x2="308.40" y2="618.88" stroke="#111" stroke-width="1.2" />
<line x1="67.80" y1="601.52" x2="69.80" y2="601.52" stroke="#111" stroke-width="1.2" />
<line x1="310.40" y1="601.52" x2="308.40" y2="601.52" stroke="#111" stroke-width="1.2" />
<line x1="67.80" y1="584.17" x2="69.80" y2="584.17" stroke="#111" stroke-width="1.2" />
<line x1="310.40" y1="584.17" x2="308.40" y2="584.17" stroke="#111" stroke-width="1.2" />
<line x1="67.80" y1="566.82" x2="69.80" y2="566.82" stroke="#111" stroke-width="1.2" />
<line x1="310.40" y1="566.82" x2="308.40" y2="566.82" stroke="#111" stroke-width="1.2" />
<line x1="67.80" y1="549.47" x2="69.80" y2="549.47" stroke="#111" stroke-width="1.2" />
<line x1="310.40" y1="549.47" x2="308.40" y2="549.47" stroke="#111" stroke-width="1.2" />
<line x1="67.80" y1="532.12" x2="69.80" y2="532.12" stroke="#111" stroke-width="1.2" />
<line x1="310.40" y1="532.12" x2="308.40" y2="532.12" stroke="#111" stroke-width="1.2" />
<line x1="67.80" y1="514.77" x2="69.80" y2="514.77" stroke="#111" stroke-width="1.2" />
<line x1="310.40" y1="514.77" x2="308.40" y2="514.77" stroke="#111" stroke-width="1.2" />
<line x1="67.80" y1="497.42" x2="69.80" y2="497.42" stroke="#111" stroke-width="1.2" />
<line x1="310.40" y1="497.42" x2="308.40" y2="497.42" stroke="#111" stroke-width="1.2" />
<line x1="67.80" y1="480.07" x2="69.80" y2="480.07" stroke="#111" stroke-width="1.2" />
<line x1="310.40" y1="480.07" x2="308.40" y2="480.07" stroke="#111" stroke-width="1.2" />
<line x1="67.80" y1="644.90" x2="71.50" y2="644.90" stroke="#111" stroke-width="1.2" />
<line x1="310.40" y1="644.90" x2="306.70" y2="644.90" stroke="#111" stroke-width="1.2" />
<line x1="67.80" y1="627.55" x2="71.50" y2="627.55" stroke="#111" stroke-width="1.2" />
<line x1="310.40" y1="627.55" x2="306.70" y2="627.55" stroke="#111" stroke-width="1.2" />
<line x1="67.80" y1="610.20" x2="71.50" y2="610.20" stroke="#111" stroke-width="1.2" />
<line x1="310.40" y1="610.20" x2="306.70" y2="610.20" stroke="#111" stroke-width="1.2" />
<line x1="67.80" y1="592.85" x2="71.50" y2="592.85" stroke="#111" stroke-width="1.2" />
<line x1="310.40" y1="592.85" x2="306.70" y2="592.85" stroke="#111" stroke-width="1.2" />
<line x1="67.80" y1="575.50" x2="71.50" y2="575.50" stroke="#111" stroke-width="1.2" />
<line x1="310.40" y1="575.50" x2="306.70" y2="575.50" stroke="#111" stroke-width="1.2" />
<line x1="67.80" y1="558.15" x2="71.50" y2="558.15" stroke="#111" stroke-width="1.2" />
<line x1="310.40" y1="558.15" x2="306.70" y2="558.15" stroke="#111" stroke-width="1.2" />
<line x1="67.80" y1="540.80" x2="71.50" y2="540.80" stroke="#111" stroke-width="1.2" />
<line x1="310.40" y1="540.80" x2="306.70" y2="540.80" stroke="#111" stroke-width="1.2" />
<line x1="67.80" y1="523.45" x2="71.50" y2="523.45" stroke="#111" stroke-width="1.2" />
<line x1="310.40" y1="523.45" x2="306.70" y2="523.45" stroke="#111" stroke-width="1.2" />
<line x1="67.80" y1="506.10" x2="71.50" y2="506.10" stroke="#111" stroke-width="1.2" />
<line x1="310.40" y1="506.10" x2="306.70" y2="506.10" stroke="#111" stroke-width="1.2" />
<line x1="67.80" y1="488.75" x2="71.50" y2="488.75" stroke="#111" stroke-width="1.2" />
<line x1="310.40" y1="488.75" x2="306.70" y2="488.75" stroke="#111" stroke-width="1.2" />
<line x1="67.80" y1="471.40" x2="71.50" y2="471.40" stroke="#111" stroke-width="1.2" />
<line x1="310.40" y1="471.40" x2="306.70" y2="471.40" stroke="#111" stroke-width="1.2" />
<text x="61.80" y="647.70" font-size="10" text-anchor="end" fill="#111" >30</text>
<text x="61.80" y="630.35" font-size="10" text-anchor="end" fill="#111" >32</text>
<text x="61.80" y="613.00" font-size="10" text-anchor="end" fill="#111" >34</text>
<text x="61.80" y="595.65" font-size="10" text-anchor="end" fill="#111" >36</text>
<text x="61.80" y="578.30" font-size="10" text-anchor="end" fill="#111" >38</text>
<text x="61.80" y="560.95" font-size="10" text-anchor="end" fill="#111" >40</text>
<text x="61.80" y="543.60" font-size="10" text-anchor="end" fill="#111" >42</text>
<text x="61.80" y="526.25" font-size="10" text-anchor="end" fill="#111" >44</text>
<text x="61.80" y="508.90" font-size="10" text-anchor="end" fill="#111" >46</text>
<text x="61.80" y="491.55" font-size="10" text-anchor="end" fill="#111" >48</text>
<text x="61.80" y="474.20" font-size="10" text-anchor="end" fill="#111" >50</text>
<rect x="78.50" y="506.57" width="6.0" height="6.0" fill="#000"/>
<rect x="135.59" y="494.69" width="6.0" height="6.0" fill="#000"/>
<rect x="192.67" y="494.69" width="6.0" height="6.0" fill="#000"/>
<rect x="249.76" y="622.38" width="6.0" height="6.0" fill="#000"/>
<rect x="295.43" y="622.38" width="6.0" height="6.0" fill="#000"/>
<text x="1.90" y="493.50" font-size="16" text-anchor="start" fill="#111" >(e)</text>
<text transform="translate(44.30,561.50) rotate(-90)" font-size="13.85" text-anchor="middle" fill="#111" >Crystallite size (nm)</text>
<text x="163.10" y="672.30" font-size="13.6" text-anchor="start" fill="#111" >P</text>
<text x="173.60" y="677.50" font-size="8.3" text-anchor="start" fill="#111" >ECWR</text>
<text x="202.90" y="672.30" font-size="13.6" text-anchor="start" fill="#111" >(W)</text>
<rect x="81.10" y="626.50" width="83.70" height="11.90" fill="#000"/>
<rect x="78.30" y="623.70" width="83.70" height="11.90" fill="#fff" stroke="#666" stroke-width="0.7"/>
<rect x="90.70" y="628.00" width="4.6" height="4.6" fill="#000"/>
<text x="107.00" y="633.30" font-size="8.4" text-anchor="start" fill="#111" >Crystal Size</text>
<rect x="420.80" y="467.80" width="253.10" height="180.70" fill="none" stroke="#111" stroke-width="1.6"/>
<line x1="450.40" y1="648.50" x2="450.40" y2="646.50" stroke="#111" stroke-width="1.2" />
<line x1="450.40" y1="467.80" x2="450.40" y2="469.80" stroke="#111" stroke-width="1.2" />
<line x1="480.20" y1="648.50" x2="480.20" y2="646.50" stroke="#111" stroke-width="1.2" />
<line x1="480.20" y1="467.80" x2="480.20" y2="469.80" stroke="#111" stroke-width="1.2" />
<line x1="510.00" y1="648.50" x2="510.00" y2="646.50" stroke="#111" stroke-width="1.2" />
<line x1="510.00" y1="467.80" x2="510.00" y2="469.80" stroke="#111" stroke-width="1.2" />
<line x1="539.80" y1="648.50" x2="539.80" y2="646.50" stroke="#111" stroke-width="1.2" />
<line x1="539.80" y1="467.80" x2="539.80" y2="469.80" stroke="#111" stroke-width="1.2" />
<line x1="569.60" y1="648.50" x2="569.60" y2="646.50" stroke="#111" stroke-width="1.2" />
<line x1="569.60" y1="467.80" x2="569.60" y2="469.80" stroke="#111" stroke-width="1.2" />
<line x1="599.40" y1="648.50" x2="599.40" y2="646.50" stroke="#111" stroke-width="1.2" />
<line x1="599.40" y1="467.80" x2="599.40" y2="469.80" stroke="#111" stroke-width="1.2" />
<line x1="629.20" y1="648.50" x2="629.20" y2="646.50" stroke="#111" stroke-width="1.2" />
<line x1="629.20" y1="467.80" x2="629.20" y2="469.80" stroke="#111" stroke-width="1.2" />
<line x1="659.00" y1="648.50" x2="659.00" y2="646.50" stroke="#111" stroke-width="1.2" />
<line x1="659.00" y1="467.80" x2="659.00" y2="469.80" stroke="#111" stroke-width="1.2" />
<line x1="435.50" y1="648.50" x2="435.50" y2="644.80" stroke="#111" stroke-width="1.2" />
<line x1="435.50" y1="467.80" x2="435.50" y2="471.50" stroke="#111" stroke-width="1.2" />
<line x1="465.30" y1="648.50" x2="465.30" y2="644.80" stroke="#111" stroke-width="1.2" />
<line x1="465.30" y1="467.80" x2="465.30" y2="471.50" stroke="#111" stroke-width="1.2" />
<line x1="495.10" y1="648.50" x2="495.10" y2="644.80" stroke="#111" stroke-width="1.2" />
<line x1="495.10" y1="467.80" x2="495.10" y2="471.50" stroke="#111" stroke-width="1.2" />
<line x1="524.90" y1="648.50" x2="524.90" y2="644.80" stroke="#111" stroke-width="1.2" />
<line x1="524.90" y1="467.80" x2="524.90" y2="471.50" stroke="#111" stroke-width="1.2" />
<line x1="554.70" y1="648.50" x2="554.70" y2="644.80" stroke="#111" stroke-width="1.2" />
<line x1="554.70" y1="467.80" x2="554.70" y2="471.50" stroke="#111" stroke-width="1.2" />
<line x1="584.50" y1="648.50" x2="584.50" y2="644.80" stroke="#111" stroke-width="1.2" />
<line x1="584.50" y1="467.80" x2="584.50" y2="471.50" stroke="#111" stroke-width="1.2" />
<line x1="614.30" y1="648.50" x2="614.30" y2="644.80" stroke="#111" stroke-width="1.2" />
<line x1="614.30" y1="467.80" x2="614.30" y2="471.50" stroke="#111" stroke-width="1.2" />
<line x1="644.10" y1="648.50" x2="644.10" y2="644.80" stroke="#111" stroke-width="1.2" />
<line x1="644.10" y1="467.80" x2="644.10" y2="471.50" stroke="#111" stroke-width="1.2" />
<line x1="673.90" y1="648.50" x2="673.90" y2="644.80" stroke="#111" stroke-width="1.2" />
<line x1="673.90" y1="467.80" x2="673.90" y2="471.50" stroke="#111" stroke-width="1.2" />
<text x="434.70" y="661.20" font-size="10" text-anchor="middle" fill="#111" >0</text>
<text x="464.50" y="661.20" font-size="10" text-anchor="middle" fill="#111" >50</text>
<text x="494.30" y="661.20" font-size="10" text-anchor="middle" fill="#111" >100</text>
<text x="524.10" y="661.20" font-size="10" text-anchor="middle" fill="#111" >150</text>
<text x="553.90" y="661.20" font-size="10" text-anchor="middle" fill="#111" >200</text>
<text x="583.70" y="661.20" font-size="10" text-anchor="middle" fill="#111" >250</text>
<text x="613.50" y="661.20" font-size="10" text-anchor="middle" fill="#111" >300</text>
<text x="643.30" y="661.20" font-size="10" text-anchor="middle" fill="#111" >350</text>
<text x="673.10" y="661.20" font-size="10" text-anchor="middle" fill="#111" >400</text>
<line x1="420.80" y1="637.86" x2="422.80" y2="637.86" stroke="#111" stroke-width="1.2" />
<line x1="673.90" y1="637.86" x2="671.90" y2="637.86" stroke="#111" stroke-width="1.2" />
<line x1="420.80" y1="616.57" x2="422.80" y2="616.57" stroke="#111" stroke-width="1.2" />
<line x1="673.90" y1="616.57" x2="671.90" y2="616.57" stroke="#111" stroke-width="1.2" />
<line x1="420.80" y1="595.28" x2="422.80" y2="595.28" stroke="#111" stroke-width="1.2" />
<line x1="673.90" y1="595.28" x2="671.90" y2="595.28" stroke="#111" stroke-width="1.2" />
<line x1="420.80" y1="573.99" x2="422.80" y2="573.99" stroke="#111" stroke-width="1.2" />
<line x1="673.90" y1="573.99" x2="671.90" y2="573.99" stroke="#111" stroke-width="1.2" />
<line x1="420.80" y1="552.71" x2="422.80" y2="552.71" stroke="#111" stroke-width="1.2" />
<line x1="673.90" y1="552.71" x2="671.90" y2="552.71" stroke="#111" stroke-width="1.2" />
<line x1="420.80" y1="531.42" x2="422.80" y2="531.42" stroke="#111" stroke-width="1.2" />
<line x1="673.90" y1="531.42" x2="671.90" y2="531.42" stroke="#111" stroke-width="1.2" />
<line x1="420.80" y1="510.13" x2="422.80" y2="510.13" stroke="#111" stroke-width="1.2" />
<line x1="673.90" y1="510.13" x2="671.90" y2="510.13" stroke="#111" stroke-width="1.2" />
<line x1="420.80" y1="488.84" x2="422.80" y2="488.84" stroke="#111" stroke-width="1.2" />
<line x1="673.90" y1="488.84" x2="671.90" y2="488.84" stroke="#111" stroke-width="1.2" />
<line x1="420.80" y1="648.50" x2="424.50" y2="648.50" stroke="#111" stroke-width="1.2" />
<line x1="673.90" y1="648.50" x2="670.20" y2="648.50" stroke="#111" stroke-width="1.2" />
<line x1="420.80" y1="627.21" x2="424.50" y2="627.21" stroke="#111" stroke-width="1.2" />
<line x1="673.90" y1="627.21" x2="670.20" y2="627.21" stroke="#111" stroke-width="1.2" />
<line x1="420.80" y1="605.92" x2="424.50" y2="605.92" stroke="#111" stroke-width="1.2" />
<line x1="673.90" y1="605.92" x2="670.20" y2="605.92" stroke="#111" stroke-width="1.2" />
<line x1="420.80" y1="584.64" x2="424.50" y2="584.64" stroke="#111" stroke-width="1.2" />
<line x1="673.90" y1="584.64" x2="670.20" y2="584.64" stroke="#111" stroke-width="1.2" />
<line x1="420.80" y1="563.35" x2="424.50" y2="563.35" stroke="#111" stroke-width="1.2" />
<line x1="673.90" y1="563.35" x2="670.20" y2="563.35" stroke="#111" stroke-width="1.2" />
<line x1="420.80" y1="542.06" x2="424.50" y2="542.06" stroke="#111" stroke-width="1.2" />
<line x1="673.90" y1="542.06" x2="670.20" y2="542.06" stroke="#111" stroke-width="1.2" />
<line x1="420.80" y1="520.77" x2="424.50" y2="520.77" stroke="#111" stroke-width="1.2" />
<line x1="673.90" y1="520.77" x2="670.20" y2="520.77" stroke="#111" stroke-width="1.2" />
<line x1="420.80" y1="499.49" x2="424.50" y2="499.49" stroke="#111" stroke-width="1.2" />
<line x1="673.90" y1="499.49" x2="670.20" y2="499.49" stroke="#111" stroke-width="1.2" />
<line x1="420.80" y1="478.20" x2="424.50" y2="478.20" stroke="#111" stroke-width="1.2" />
<line x1="673.90" y1="478.20" x2="670.20" y2="478.20" stroke="#111" stroke-width="1.2" />
<text x="414.40" y="651.30" font-size="10" text-anchor="end" fill="#111" >0</text>
<text x="414.40" y="630.01" font-size="10" text-anchor="end" fill="#111" >20</text>
<text x="414.40" y="608.72" font-size="10" text-anchor="end" fill="#111" >40</text>
<text x="414.40" y="587.44" font-size="10" text-anchor="end" fill="#111" >60</text>
<text x="414.40" y="566.15" font-size="10" text-anchor="end" fill="#111" >80</text>
<text x="414.40" y="544.86" font-size="10" text-anchor="end" fill="#111" >100</text>
<text x="414.40" y="523.57" font-size="10" text-anchor="end" fill="#111" >120</text>
<text x="414.40" y="502.29" font-size="10" text-anchor="end" fill="#111" >140</text>
<text x="414.40" y="481.00" font-size="10" text-anchor="end" fill="#111" >160</text>
<rect x="432.35" y="571.59" width="6.3" height="6.3" fill="#000"/>
<rect x="491.95" y="556.16" width="6.3" height="6.3" fill="#000"/>
<rect x="551.55" y="513.69" width="6.3" height="6.3" fill="#000"/>
<rect x="611.15" y="479.09" width="6.3" height="6.3" fill="#000"/>
<rect x="658.83" y="539.44" width="6.3" height="6.3" fill="#000"/>
<text x="359.30" y="498.80" font-size="16" text-anchor="start" fill="#111" >(f)</text>
<text transform="translate(394.60,567.30) rotate(-90)" font-size="14.45" text-anchor="middle" fill="#111" >Deposition rate (nm/min)</text>
<text x="511.70" y="675.00" font-size="13.6" text-anchor="start" fill="#111" >P</text>
<text x="521.70" y="680.20" font-size="8.3" text-anchor="start" fill="#111" >ECWR</text>
<text x="552.40" y="675.00" font-size="13.6" text-anchor="start" fill="#111" >(W)</text>
<rect x="560.50" y="622.00" width="103.70" height="13.10" fill="#000"/>
<rect x="557.70" y="619.20" width="103.70" height="13.10" fill="#fff" stroke="#666" stroke-width="0.7"/>
<rect x="572.00" y="623.80" width="4.4" height="4.4" fill="#000"/>
<text x="588.60" y="629.40" font-size="8.55" text-anchor="start" fill="#111" >Deposition rate</text>
</svg>
</body></html>
